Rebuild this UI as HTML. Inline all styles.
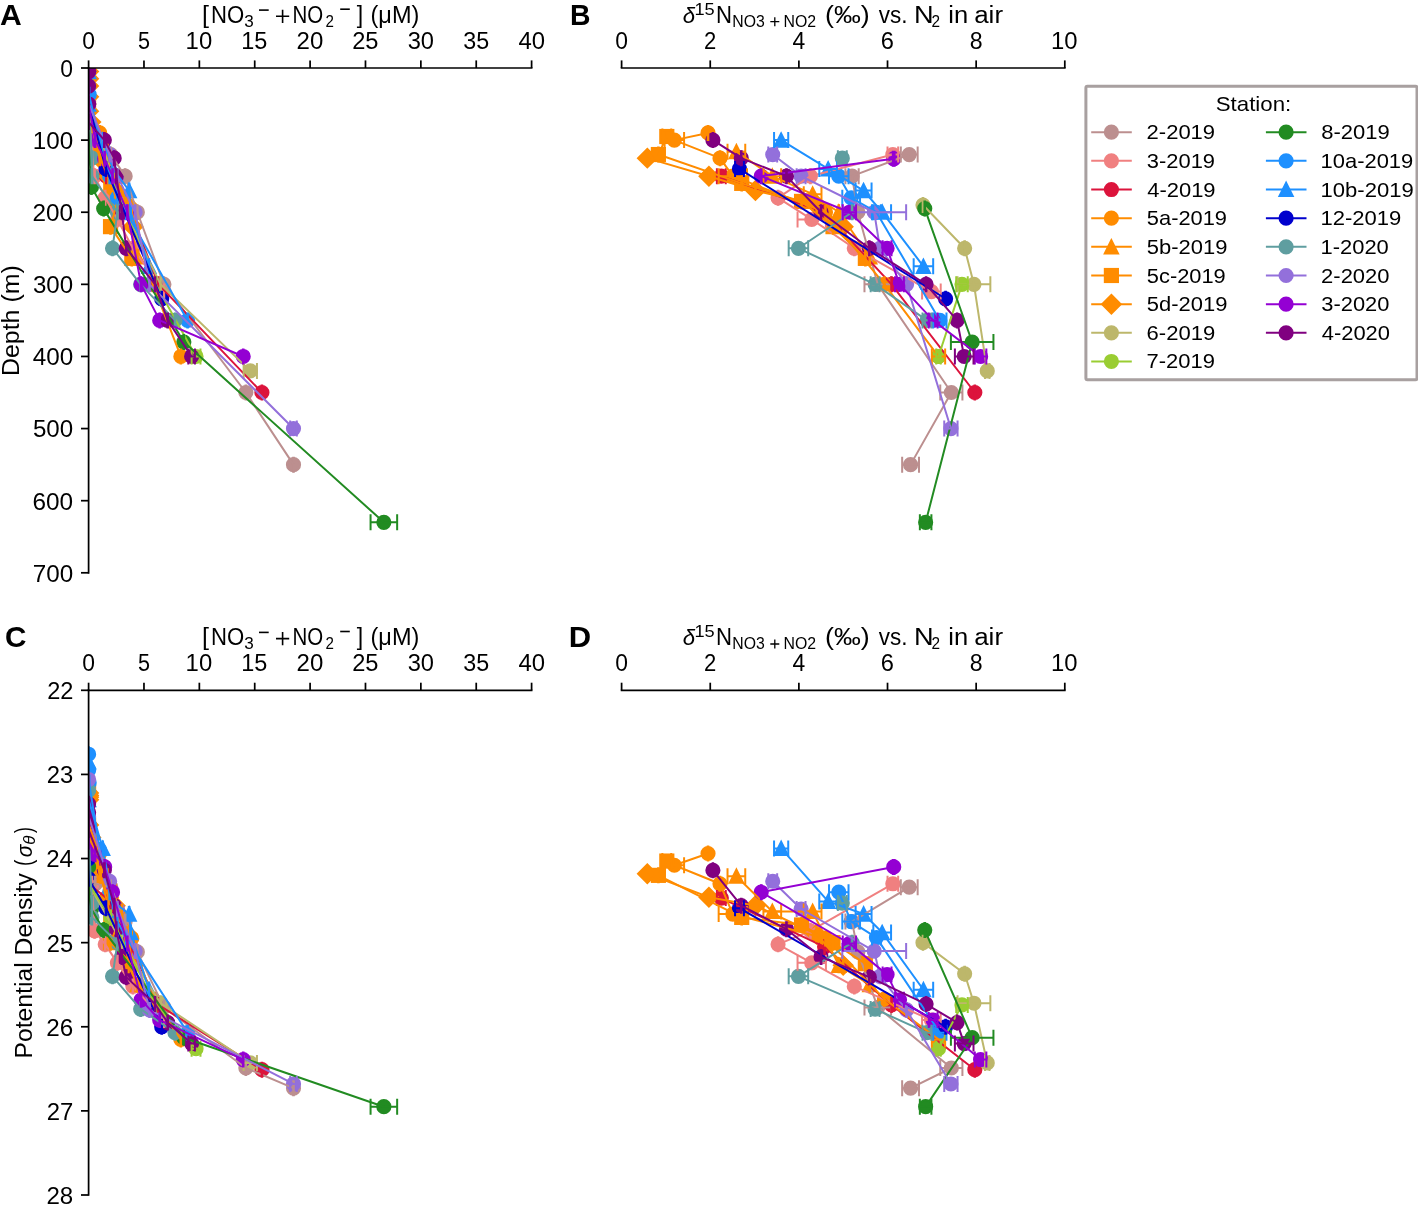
<!DOCTYPE html>
<html><head><meta charset="utf-8"><style>
html,body{margin:0;padding:0;background:#fff;overflow:hidden}
svg{display:block;will-change:transform}
text{font-family:"Liberation Sans", sans-serif;fill:#000}
</style></head><body>
<svg width="1418" height="1206" viewBox="0 0 1418 1206">
<defs><clipPath id="cA"><rect x="88.6" y="68.0" width="443.00" height="504.80"/></clipPath><clipPath id="cB"><rect x="621.6" y="68.0" width="443.20" height="504.80"/></clipPath><clipPath id="cC"><rect x="88.6" y="690.3" width="443.00" height="504.70"/></clipPath><clipPath id="cD"><rect x="621.6" y="690.3" width="443.20" height="504.70"/></clipPath></defs>
<g clip-path="url(#cA)">
<circle cx="88.60" cy="71.61" r="6.50" fill="#bc8f8f" stroke="#bc8f8f" stroke-width="2.17"/>
<circle cx="88.60" cy="104.06" r="6.50" fill="#bc8f8f" stroke="#bc8f8f" stroke-width="2.17"/>
<circle cx="95.24" cy="140.11" r="6.50" fill="#bc8f8f" stroke="#bc8f8f" stroke-width="2.17"/>
<circle cx="110.75" cy="154.54" r="6.50" fill="#bc8f8f" stroke="#bc8f8f" stroke-width="2.17"/>
<circle cx="125.15" cy="176.17" r="6.50" fill="#bc8f8f" stroke="#bc8f8f" stroke-width="2.17"/>
<circle cx="137.33" cy="212.23" r="6.50" fill="#bc8f8f" stroke="#bc8f8f" stroke-width="2.17"/>
<circle cx="163.91" cy="284.34" r="6.50" fill="#bc8f8f" stroke="#bc8f8f" stroke-width="2.17"/>
<circle cx="245.86" cy="392.51" r="6.50" fill="#bc8f8f" stroke="#bc8f8f" stroke-width="2.17"/>
<circle cx="293.49" cy="464.63" r="6.50" fill="#bc8f8f" stroke="#bc8f8f" stroke-width="2.17"/>
<circle cx="88.60" cy="71.61" r="6.50" fill="#f08080" stroke="#f08080" stroke-width="2.17"/>
<circle cx="88.60" cy="104.06" r="6.50" fill="#f08080" stroke="#f08080" stroke-width="2.17"/>
<circle cx="91.92" cy="154.54" r="6.50" fill="#f08080" stroke="#f08080" stroke-width="2.17"/>
<circle cx="94.58" cy="176.17" r="6.50" fill="#f08080" stroke="#f08080" stroke-width="2.17"/>
<circle cx="105.21" cy="197.81" r="6.50" fill="#f08080" stroke="#f08080" stroke-width="2.17"/>
<circle cx="117.39" cy="219.44" r="6.50" fill="#f08080" stroke="#f08080" stroke-width="2.17"/>
<circle cx="132.90" cy="248.29" r="6.50" fill="#f08080" stroke="#f08080" stroke-width="2.17"/>
<circle cx="163.91" cy="291.55" r="6.50" fill="#f08080" stroke="#f08080" stroke-width="2.17"/>
<circle cx="88.60" cy="71.61" r="6.50" fill="#dc143c" stroke="#dc143c" stroke-width="2.17"/>
<circle cx="88.60" cy="104.06" r="6.50" fill="#dc143c" stroke="#dc143c" stroke-width="2.17"/>
<circle cx="106.32" cy="176.17" r="6.50" fill="#dc143c" stroke="#dc143c" stroke-width="2.17"/>
<circle cx="130.69" cy="212.23" r="6.50" fill="#dc143c" stroke="#dc143c" stroke-width="2.17"/>
<circle cx="158.37" cy="284.34" r="6.50" fill="#dc143c" stroke="#dc143c" stroke-width="2.17"/>
<circle cx="261.92" cy="392.51" r="6.50" fill="#dc143c" stroke="#dc143c" stroke-width="2.17"/>
<circle cx="88.60" cy="71.61" r="6.50" fill="#ff8c00" stroke="#ff8c00" stroke-width="2.17"/>
<circle cx="88.60" cy="104.06" r="6.50" fill="#ff8c00" stroke="#ff8c00" stroke-width="2.17"/>
<circle cx="99.67" cy="132.90" r="6.50" fill="#ff8c00" stroke="#ff8c00" stroke-width="2.17"/>
<circle cx="101.89" cy="140.11" r="6.50" fill="#ff8c00" stroke="#ff8c00" stroke-width="2.17"/>
<circle cx="109.64" cy="158.14" r="6.50" fill="#ff8c00" stroke="#ff8c00" stroke-width="2.17"/>
<circle cx="115.18" cy="176.17" r="6.50" fill="#ff8c00" stroke="#ff8c00" stroke-width="2.17"/>
<circle cx="131.79" cy="212.23" r="6.50" fill="#ff8c00" stroke="#ff8c00" stroke-width="2.17"/>
<circle cx="152.83" cy="284.34" r="6.50" fill="#ff8c00" stroke="#ff8c00" stroke-width="2.17"/>
<circle cx="180.85" cy="356.46" r="6.50" fill="#ff8c00" stroke="#ff8c00" stroke-width="2.17"/>
<path d="M88.60 65.11L82.10 78.11H95.10Z" fill="#ff8c00" stroke="#ff8c00" stroke-width="2.17"/>
<path d="M88.60 97.56L82.10 110.56H95.10Z" fill="#ff8c00" stroke="#ff8c00" stroke-width="2.17"/>
<path d="M107.43 145.15L100.93 158.15H113.93Z" fill="#ff8c00" stroke="#ff8c00" stroke-width="2.17"/>
<path d="M116.29 169.67L109.79 182.67H122.79Z" fill="#ff8c00" stroke="#ff8c00" stroke-width="2.17"/>
<path d="M121.82 187.70L115.32 200.70H128.32Z" fill="#ff8c00" stroke="#ff8c00" stroke-width="2.17"/>
<path d="M128.47 205.73L121.97 218.73H134.97Z" fill="#ff8c00" stroke="#ff8c00" stroke-width="2.17"/>
<path d="M137.33 250.44L130.83 263.44H143.83Z" fill="#ff8c00" stroke="#ff8c00" stroke-width="2.17"/>
<rect x="82.10" y="65.11" width="13.00" height="13.00" fill="#ff8c00" stroke="#ff8c00" stroke-width="2.17"/>
<rect x="82.10" y="97.56" width="13.00" height="13.00" fill="#ff8c00" stroke="#ff8c00" stroke-width="2.17"/>
<rect x="90.96" y="130.01" width="13.00" height="13.00" fill="#ff8c00" stroke="#ff8c00" stroke-width="2.17"/>
<rect x="94.28" y="148.04" width="13.00" height="13.00" fill="#ff8c00" stroke="#ff8c00" stroke-width="2.17"/>
<rect x="104.25" y="176.88" width="13.00" height="13.00" fill="#ff8c00" stroke="#ff8c00" stroke-width="2.17"/>
<rect x="110.89" y="194.91" width="13.00" height="13.00" fill="#ff8c00" stroke="#ff8c00" stroke-width="2.17"/>
<rect x="104.03" y="220.15" width="13.00" height="13.00" fill="#ff8c00" stroke="#ff8c00" stroke-width="2.17"/>
<rect x="125.29" y="251.88" width="13.00" height="13.00" fill="#ff8c00" stroke="#ff8c00" stroke-width="2.17"/>
<path d="M88.60 62.42L97.79 71.61L88.60 80.80L79.41 71.61Z" fill="#ff8c00" stroke="#ff8c00" stroke-width="2.17"/>
<path d="M88.60 69.63L97.79 78.82L88.60 88.01L79.41 78.82Z" fill="#ff8c00" stroke="#ff8c00" stroke-width="2.17"/>
<path d="M88.60 76.84L97.79 86.03L88.60 95.22L79.41 86.03Z" fill="#ff8c00" stroke="#ff8c00" stroke-width="2.17"/>
<path d="M88.60 87.66L97.79 96.85L88.60 106.04L79.41 96.85Z" fill="#ff8c00" stroke="#ff8c00" stroke-width="2.17"/>
<path d="M88.60 102.08L97.79 111.27L88.60 120.46L79.41 111.27Z" fill="#ff8c00" stroke="#ff8c00" stroke-width="2.17"/>
<path d="M90.81 112.90L100.00 122.09L90.81 131.28L81.62 122.09Z" fill="#ff8c00" stroke="#ff8c00" stroke-width="2.17"/>
<path d="M99.67 148.95L108.86 158.14L99.67 167.33L90.48 158.14Z" fill="#ff8c00" stroke="#ff8c00" stroke-width="2.17"/>
<path d="M108.53 166.98L117.72 176.17L108.53 185.36L99.34 176.17Z" fill="#ff8c00" stroke="#ff8c00" stroke-width="2.17"/>
<path d="M115.18 181.40L124.37 190.59L115.18 199.78L105.99 190.59Z" fill="#ff8c00" stroke="#ff8c00" stroke-width="2.17"/>
<path d="M127.36 195.83L136.55 205.02L127.36 214.21L118.17 205.02Z" fill="#ff8c00" stroke="#ff8c00" stroke-width="2.17"/>
<path d="M132.90 217.46L142.09 226.65L132.90 235.84L123.71 226.65Z" fill="#ff8c00" stroke="#ff8c00" stroke-width="2.17"/>
<circle cx="88.60" cy="71.61" r="6.50" fill="#bdb76b" stroke="#bdb76b" stroke-width="2.17"/>
<circle cx="88.60" cy="104.06" r="6.50" fill="#bdb76b" stroke="#bdb76b" stroke-width="2.17"/>
<circle cx="121.82" cy="205.02" r="6.50" fill="#bdb76b" stroke="#bdb76b" stroke-width="2.17"/>
<circle cx="160.59" cy="284.34" r="6.50" fill="#bdb76b" stroke="#bdb76b" stroke-width="2.17"/>
<circle cx="250.29" cy="370.88" r="6.50" fill="#bdb76b" stroke="#bdb76b" stroke-width="2.17"/>
<circle cx="88.60" cy="71.61" r="6.50" fill="#9acd32" stroke="#9acd32" stroke-width="2.17"/>
<circle cx="88.60" cy="104.06" r="6.50" fill="#9acd32" stroke="#9acd32" stroke-width="2.17"/>
<circle cx="110.75" cy="176.17" r="6.50" fill="#9acd32" stroke="#9acd32" stroke-width="2.17"/>
<circle cx="155.71" cy="284.34" r="6.50" fill="#9acd32" stroke="#9acd32" stroke-width="2.17"/>
<circle cx="196.03" cy="356.46" r="6.50" fill="#9acd32" stroke="#9acd32" stroke-width="2.17"/>
<circle cx="88.60" cy="71.61" r="6.50" fill="#228b22" stroke="#228b22" stroke-width="2.17"/>
<circle cx="88.60" cy="140.11" r="6.50" fill="#228b22" stroke="#228b22" stroke-width="2.17"/>
<circle cx="91.48" cy="186.99" r="6.50" fill="#228b22" stroke="#228b22" stroke-width="2.17"/>
<circle cx="103.66" cy="208.62" r="6.50" fill="#228b22" stroke="#228b22" stroke-width="2.17"/>
<circle cx="183.84" cy="342.03" r="6.50" fill="#228b22" stroke="#228b22" stroke-width="2.17"/>
<circle cx="383.86" cy="522.32" r="6.50" fill="#228b22" stroke="#228b22" stroke-width="2.17"/>
<circle cx="88.60" cy="71.61" r="6.50" fill="#1e90ff" stroke="#1e90ff" stroke-width="2.17"/>
<circle cx="88.60" cy="86.03" r="6.50" fill="#1e90ff" stroke="#1e90ff" stroke-width="2.17"/>
<circle cx="89.15" cy="94.68" r="6.50" fill="#1e90ff" stroke="#1e90ff" stroke-width="2.17"/>
<circle cx="99.67" cy="140.11" r="6.50" fill="#1e90ff" stroke="#1e90ff" stroke-width="2.17"/>
<circle cx="109.64" cy="176.17" r="6.50" fill="#1e90ff" stroke="#1e90ff" stroke-width="2.17"/>
<circle cx="117.39" cy="197.81" r="6.50" fill="#1e90ff" stroke="#1e90ff" stroke-width="2.17"/>
<circle cx="126.25" cy="212.23" r="6.50" fill="#1e90ff" stroke="#1e90ff" stroke-width="2.17"/>
<circle cx="187.61" cy="320.40" r="6.50" fill="#1e90ff" stroke="#1e90ff" stroke-width="2.17"/>
<path d="M88.60 65.11L82.10 78.11H95.10Z" fill="#1e90ff" stroke="#1e90ff" stroke-width="2.17"/>
<path d="M88.60 97.56L82.10 110.56H95.10Z" fill="#1e90ff" stroke="#1e90ff" stroke-width="2.17"/>
<path d="M102.67 133.61L96.17 146.61H109.17Z" fill="#1e90ff" stroke="#1e90ff" stroke-width="2.17"/>
<path d="M112.97 162.46L106.47 175.46H119.47Z" fill="#1e90ff" stroke="#1e90ff" stroke-width="2.17"/>
<path d="M129.13 184.09L122.63 197.09H135.63Z" fill="#1e90ff" stroke="#1e90ff" stroke-width="2.17"/>
<path d="M130.69 205.73L124.19 218.73H137.19Z" fill="#1e90ff" stroke="#1e90ff" stroke-width="2.17"/>
<path d="M148.96 259.81L142.46 272.81H155.46Z" fill="#1e90ff" stroke="#1e90ff" stroke-width="2.17"/>
<circle cx="88.60" cy="71.61" r="6.50" fill="#0000cd" stroke="#0000cd" stroke-width="2.17"/>
<circle cx="88.60" cy="104.06" r="6.50" fill="#0000cd" stroke="#0000cd" stroke-width="2.17"/>
<circle cx="105.99" cy="168.96" r="6.50" fill="#0000cd" stroke="#0000cd" stroke-width="2.17"/>
<circle cx="161.69" cy="298.77" r="6.50" fill="#0000cd" stroke="#0000cd" stroke-width="2.17"/>
<circle cx="88.60" cy="71.61" r="6.50" fill="#5f9ea0" stroke="#5f9ea0" stroke-width="2.17"/>
<circle cx="88.60" cy="104.06" r="6.50" fill="#5f9ea0" stroke="#5f9ea0" stroke-width="2.17"/>
<circle cx="91.92" cy="158.14" r="6.50" fill="#5f9ea0" stroke="#5f9ea0" stroke-width="2.17"/>
<circle cx="91.92" cy="176.17" r="6.50" fill="#5f9ea0" stroke="#5f9ea0" stroke-width="2.17"/>
<circle cx="117.39" cy="212.23" r="6.50" fill="#5f9ea0" stroke="#5f9ea0" stroke-width="2.17"/>
<circle cx="112.52" cy="248.29" r="6.50" fill="#5f9ea0" stroke="#5f9ea0" stroke-width="2.17"/>
<circle cx="140.65" cy="284.34" r="6.50" fill="#5f9ea0" stroke="#5f9ea0" stroke-width="2.17"/>
<circle cx="174.98" cy="320.40" r="6.50" fill="#5f9ea0" stroke="#5f9ea0" stroke-width="2.17"/>
<circle cx="88.60" cy="71.61" r="6.50" fill="#9370db" stroke="#9370db" stroke-width="2.17"/>
<circle cx="88.60" cy="104.06" r="6.50" fill="#9370db" stroke="#9370db" stroke-width="2.17"/>
<circle cx="109.64" cy="154.54" r="6.50" fill="#9370db" stroke="#9370db" stroke-width="2.17"/>
<circle cx="117.39" cy="176.17" r="6.50" fill="#9370db" stroke="#9370db" stroke-width="2.17"/>
<circle cx="135.12" cy="212.23" r="6.50" fill="#9370db" stroke="#9370db" stroke-width="2.17"/>
<circle cx="149.51" cy="284.34" r="6.50" fill="#9370db" stroke="#9370db" stroke-width="2.17"/>
<circle cx="293.49" cy="428.57" r="6.50" fill="#9370db" stroke="#9370db" stroke-width="2.17"/>
<circle cx="88.60" cy="71.61" r="6.50" fill="#9400d3" stroke="#9400d3" stroke-width="2.17"/>
<circle cx="88.60" cy="104.06" r="6.50" fill="#9400d3" stroke="#9400d3" stroke-width="2.17"/>
<circle cx="95.24" cy="140.11" r="6.50" fill="#9400d3" stroke="#9400d3" stroke-width="2.17"/>
<circle cx="104.66" cy="158.86" r="6.50" fill="#9400d3" stroke="#9400d3" stroke-width="2.17"/>
<circle cx="112.52" cy="176.17" r="6.50" fill="#9400d3" stroke="#9400d3" stroke-width="2.17"/>
<circle cx="127.36" cy="212.23" r="6.50" fill="#9400d3" stroke="#9400d3" stroke-width="2.17"/>
<circle cx="141.10" cy="284.34" r="6.50" fill="#9400d3" stroke="#9400d3" stroke-width="2.17"/>
<circle cx="159.70" cy="320.40" r="6.50" fill="#9400d3" stroke="#9400d3" stroke-width="2.17"/>
<circle cx="243.21" cy="356.46" r="6.50" fill="#9400d3" stroke="#9400d3" stroke-width="2.17"/>
<circle cx="88.60" cy="71.61" r="6.50" fill="#800080" stroke="#800080" stroke-width="2.17"/>
<circle cx="88.60" cy="86.03" r="6.50" fill="#800080" stroke="#800080" stroke-width="2.17"/>
<circle cx="88.60" cy="104.06" r="6.50" fill="#800080" stroke="#800080" stroke-width="2.17"/>
<circle cx="88.60" cy="122.09" r="6.50" fill="#800080" stroke="#800080" stroke-width="2.17"/>
<circle cx="104.33" cy="140.11" r="6.50" fill="#800080" stroke="#800080" stroke-width="2.17"/>
<circle cx="114.18" cy="158.14" r="6.50" fill="#800080" stroke="#800080" stroke-width="2.17"/>
<circle cx="116.29" cy="176.17" r="6.50" fill="#800080" stroke="#800080" stroke-width="2.17"/>
<circle cx="121.82" cy="212.23" r="6.50" fill="#800080" stroke="#800080" stroke-width="2.17"/>
<circle cx="126.25" cy="248.29" r="6.50" fill="#800080" stroke="#800080" stroke-width="2.17"/>
<circle cx="155.05" cy="284.34" r="6.50" fill="#800080" stroke="#800080" stroke-width="2.17"/>
<circle cx="167.68" cy="320.40" r="6.50" fill="#800080" stroke="#800080" stroke-width="2.17"/>
<circle cx="191.60" cy="356.46" r="6.50" fill="#800080" stroke="#800080" stroke-width="2.17"/>
<path d="M88.30 63.61V79.61M88.90 63.61V79.61" fill="none" stroke="#bc8f8f" stroke-width="2.0"/>
<path d="M88.30 96.06V112.06M88.90 96.06V112.06" fill="none" stroke="#bc8f8f" stroke-width="2.0"/>
<path d="M94.94 132.11V148.11M95.54 132.11V148.11" fill="none" stroke="#bc8f8f" stroke-width="2.0"/>
<path d="M110.45 146.54V162.54M111.05 146.54V162.54" fill="none" stroke="#bc8f8f" stroke-width="2.0"/>
<path d="M124.85 168.17V184.17M125.45 168.17V184.17" fill="none" stroke="#bc8f8f" stroke-width="2.0"/>
<path d="M137.03 204.23V220.23M137.63 204.23V220.23" fill="none" stroke="#bc8f8f" stroke-width="2.0"/>
<path d="M163.61 276.34V292.34M164.21 276.34V292.34" fill="none" stroke="#bc8f8f" stroke-width="2.0"/>
<path d="M245.56 384.51V400.51M246.16 384.51V400.51" fill="none" stroke="#bc8f8f" stroke-width="2.0"/>
<path d="M293.19 456.63V472.63M293.79 456.63V472.63" fill="none" stroke="#bc8f8f" stroke-width="2.0"/>
<polyline points="88.60,71.61 88.60,104.06 95.24,140.11 110.75,154.54 125.15,176.17 137.33,212.23 163.91,284.34 245.86,392.51 293.49,464.63" fill="none" stroke="#bc8f8f" stroke-width="2.0" stroke-linejoin="round"/>
<path d="M88.30 63.61V79.61M88.90 63.61V79.61" fill="none" stroke="#f08080" stroke-width="2.0"/>
<path d="M88.30 96.06V112.06M88.90 96.06V112.06" fill="none" stroke="#f08080" stroke-width="2.0"/>
<path d="M91.62 146.54V162.54M92.22 146.54V162.54" fill="none" stroke="#f08080" stroke-width="2.0"/>
<path d="M94.28 168.17V184.17M94.88 168.17V184.17" fill="none" stroke="#f08080" stroke-width="2.0"/>
<path d="M104.91 189.81V205.81M105.51 189.81V205.81" fill="none" stroke="#f08080" stroke-width="2.0"/>
<path d="M117.09 211.44V227.44M117.69 211.44V227.44" fill="none" stroke="#f08080" stroke-width="2.0"/>
<path d="M132.60 240.29V256.29M133.20 240.29V256.29" fill="none" stroke="#f08080" stroke-width="2.0"/>
<path d="M163.61 283.55V299.55M164.21 283.55V299.55" fill="none" stroke="#f08080" stroke-width="2.0"/>
<polyline points="88.60,71.61 88.60,104.06 91.92,154.54 94.58,176.17 105.21,197.81 117.39,219.44 132.90,248.29 163.91,291.55" fill="none" stroke="#f08080" stroke-width="2.0" stroke-linejoin="round"/>
<path d="M88.30 63.61V79.61M88.90 63.61V79.61" fill="none" stroke="#dc143c" stroke-width="2.0"/>
<path d="M88.30 96.06V112.06M88.90 96.06V112.06" fill="none" stroke="#dc143c" stroke-width="2.0"/>
<path d="M106.02 168.17V184.17M106.62 168.17V184.17" fill="none" stroke="#dc143c" stroke-width="2.0"/>
<path d="M130.38 204.23V220.23M130.99 204.23V220.23" fill="none" stroke="#dc143c" stroke-width="2.0"/>
<path d="M158.07 276.34V292.34M158.67 276.34V292.34" fill="none" stroke="#dc143c" stroke-width="2.0"/>
<path d="M261.62 384.51V400.51M262.22 384.51V400.51" fill="none" stroke="#dc143c" stroke-width="2.0"/>
<polyline points="88.60,71.61 88.60,104.06 106.32,176.17 130.69,212.23 158.37,284.34 261.92,392.51" fill="none" stroke="#dc143c" stroke-width="2.0" stroke-linejoin="round"/>
<path d="M88.30 63.61V79.61M88.90 63.61V79.61" fill="none" stroke="#ff8c00" stroke-width="2.0"/>
<path d="M88.30 96.06V112.06M88.90 96.06V112.06" fill="none" stroke="#ff8c00" stroke-width="2.0"/>
<path d="M99.38 124.90V140.90M99.97 124.90V140.90" fill="none" stroke="#ff8c00" stroke-width="2.0"/>
<path d="M101.59 132.11V148.11M102.19 132.11V148.11" fill="none" stroke="#ff8c00" stroke-width="2.0"/>
<path d="M109.34 150.14V166.14M109.94 150.14V166.14" fill="none" stroke="#ff8c00" stroke-width="2.0"/>
<path d="M114.88 168.17V184.17M115.48 168.17V184.17" fill="none" stroke="#ff8c00" stroke-width="2.0"/>
<path d="M131.49 204.23V220.23M132.09 204.23V220.23" fill="none" stroke="#ff8c00" stroke-width="2.0"/>
<path d="M152.53 276.34V292.34M153.13 276.34V292.34" fill="none" stroke="#ff8c00" stroke-width="2.0"/>
<path d="M180.55 348.46V364.46M181.15 348.46V364.46" fill="none" stroke="#ff8c00" stroke-width="2.0"/>
<polyline points="88.60,71.61 88.60,104.06 99.67,132.90 101.89,140.11 109.64,158.14 115.18,176.17 131.79,212.23 152.83,284.34 180.85,356.46" fill="none" stroke="#ff8c00" stroke-width="2.0" stroke-linejoin="round"/>
<path d="M88.30 63.61V79.61M88.90 63.61V79.61" fill="none" stroke="#ff8c00" stroke-width="2.0"/>
<path d="M88.30 96.06V112.06M88.90 96.06V112.06" fill="none" stroke="#ff8c00" stroke-width="2.0"/>
<path d="M107.13 143.65V159.65M107.73 143.65V159.65" fill="none" stroke="#ff8c00" stroke-width="2.0"/>
<path d="M115.99 168.17V184.17M116.59 168.17V184.17" fill="none" stroke="#ff8c00" stroke-width="2.0"/>
<path d="M121.52 186.20V202.20M122.12 186.20V202.20" fill="none" stroke="#ff8c00" stroke-width="2.0"/>
<path d="M128.17 204.23V220.23M128.77 204.23V220.23" fill="none" stroke="#ff8c00" stroke-width="2.0"/>
<path d="M137.03 248.94V264.94M137.63 248.94V264.94" fill="none" stroke="#ff8c00" stroke-width="2.0"/>
<polyline points="88.60,71.61 88.60,104.06 107.43,151.65 116.29,176.17 121.82,194.20 128.47,212.23 137.33,256.94" fill="none" stroke="#ff8c00" stroke-width="2.0" stroke-linejoin="round"/>
<path d="M88.30 63.61V79.61M88.90 63.61V79.61" fill="none" stroke="#ff8c00" stroke-width="2.0"/>
<path d="M88.30 96.06V112.06M88.90 96.06V112.06" fill="none" stroke="#ff8c00" stroke-width="2.0"/>
<path d="M97.16 128.51V144.51M97.76 128.51V144.51" fill="none" stroke="#ff8c00" stroke-width="2.0"/>
<path d="M100.48 146.54V162.54M101.08 146.54V162.54" fill="none" stroke="#ff8c00" stroke-width="2.0"/>
<path d="M110.45 175.38V191.38M111.05 175.38V191.38" fill="none" stroke="#ff8c00" stroke-width="2.0"/>
<path d="M117.09 193.41V209.41M117.69 193.41V209.41" fill="none" stroke="#ff8c00" stroke-width="2.0"/>
<path d="M110.23 218.65V234.65M110.83 218.65V234.65" fill="none" stroke="#ff8c00" stroke-width="2.0"/>
<path d="M131.49 250.38V266.38M132.09 250.38V266.38" fill="none" stroke="#ff8c00" stroke-width="2.0"/>
<polyline points="88.60,71.61 88.60,104.06 97.46,136.51 100.78,154.54 110.75,183.38 117.39,201.41 110.53,226.65 131.79,258.38" fill="none" stroke="#ff8c00" stroke-width="2.0" stroke-linejoin="round"/>
<path d="M88.30 63.61V79.61M88.90 63.61V79.61" fill="none" stroke="#ff8c00" stroke-width="2.0"/>
<path d="M88.30 70.82V86.82M88.90 70.82V86.82" fill="none" stroke="#ff8c00" stroke-width="2.0"/>
<path d="M88.30 78.03V94.03M88.90 78.03V94.03" fill="none" stroke="#ff8c00" stroke-width="2.0"/>
<path d="M88.30 88.85V104.85M88.90 88.85V104.85" fill="none" stroke="#ff8c00" stroke-width="2.0"/>
<path d="M88.30 103.27V119.27M88.90 103.27V119.27" fill="none" stroke="#ff8c00" stroke-width="2.0"/>
<path d="M90.52 114.09V130.09M91.11 114.09V130.09" fill="none" stroke="#ff8c00" stroke-width="2.0"/>
<path d="M99.38 150.14V166.14M99.97 150.14V166.14" fill="none" stroke="#ff8c00" stroke-width="2.0"/>
<path d="M108.23 168.17V184.17M108.83 168.17V184.17" fill="none" stroke="#ff8c00" stroke-width="2.0"/>
<path d="M114.88 182.59V198.59M115.48 182.59V198.59" fill="none" stroke="#ff8c00" stroke-width="2.0"/>
<path d="M127.06 197.02V213.02M127.66 197.02V213.02" fill="none" stroke="#ff8c00" stroke-width="2.0"/>
<path d="M132.60 218.65V234.65M133.20 218.65V234.65" fill="none" stroke="#ff8c00" stroke-width="2.0"/>
<polyline points="88.60,71.61 88.60,78.82 88.60,86.03 88.60,96.85 88.60,111.27 90.81,122.09 99.67,158.14 108.53,176.17 115.18,190.59 127.36,205.02 132.90,226.65" fill="none" stroke="#ff8c00" stroke-width="2.0" stroke-linejoin="round"/>
<path d="M88.30 63.61V79.61M88.90 63.61V79.61" fill="none" stroke="#bdb76b" stroke-width="2.0"/>
<path d="M88.30 96.06V112.06M88.90 96.06V112.06" fill="none" stroke="#bdb76b" stroke-width="2.0"/>
<path d="M121.52 197.02V213.02M122.12 197.02V213.02" fill="none" stroke="#bdb76b" stroke-width="2.0"/>
<path d="M160.29 276.34V292.34M160.89 276.34V292.34" fill="none" stroke="#bdb76b" stroke-width="2.0"/>
<path d="M243.65 370.88H256.94M243.65 362.88V378.88M256.94 362.88V378.88" fill="none" stroke="#bdb76b" stroke-width="2.0"/>
<polyline points="88.60,71.61 88.60,104.06 121.82,205.02 160.59,284.34 250.29,370.88" fill="none" stroke="#bdb76b" stroke-width="2.0" stroke-linejoin="round"/>
<path d="M88.30 63.61V79.61M88.90 63.61V79.61" fill="none" stroke="#9acd32" stroke-width="2.0"/>
<path d="M88.30 96.06V112.06M88.90 96.06V112.06" fill="none" stroke="#9acd32" stroke-width="2.0"/>
<path d="M110.45 168.17V184.17M111.05 168.17V184.17" fill="none" stroke="#9acd32" stroke-width="2.0"/>
<path d="M155.41 276.34V292.34M156.01 276.34V292.34" fill="none" stroke="#9acd32" stroke-width="2.0"/>
<path d="M191.60 356.46H200.46M191.60 348.46V364.46M200.46 348.46V364.46" fill="none" stroke="#9acd32" stroke-width="2.0"/>
<polyline points="88.60,71.61 88.60,104.06 110.75,176.17 155.71,284.34 196.03,356.46" fill="none" stroke="#9acd32" stroke-width="2.0" stroke-linejoin="round"/>
<path d="M88.30 63.61V79.61M88.90 63.61V79.61" fill="none" stroke="#228b22" stroke-width="2.0"/>
<path d="M88.30 132.11V148.11M88.90 132.11V148.11" fill="none" stroke="#228b22" stroke-width="2.0"/>
<path d="M91.18 178.99V194.99M91.78 178.99V194.99" fill="none" stroke="#228b22" stroke-width="2.0"/>
<path d="M103.36 200.62V216.62M103.96 200.62V216.62" fill="none" stroke="#228b22" stroke-width="2.0"/>
<path d="M183.54 334.03V350.03M184.14 334.03V350.03" fill="none" stroke="#228b22" stroke-width="2.0"/>
<path d="M370.57 522.32H397.15M370.57 514.32V530.32M397.15 514.32V530.32" fill="none" stroke="#228b22" stroke-width="2.0"/>
<polyline points="88.60,71.61 88.60,140.11 91.48,186.99 103.66,208.62 183.84,342.03 383.86,522.32" fill="none" stroke="#228b22" stroke-width="2.0" stroke-linejoin="round"/>
<path d="M88.30 63.61V79.61M88.90 63.61V79.61" fill="none" stroke="#1e90ff" stroke-width="2.0"/>
<path d="M88.30 78.03V94.03M88.90 78.03V94.03" fill="none" stroke="#1e90ff" stroke-width="2.0"/>
<path d="M88.85 86.68V102.68M89.45 86.68V102.68" fill="none" stroke="#1e90ff" stroke-width="2.0"/>
<path d="M99.38 132.11V148.11M99.97 132.11V148.11" fill="none" stroke="#1e90ff" stroke-width="2.0"/>
<path d="M109.34 168.17V184.17M109.94 168.17V184.17" fill="none" stroke="#1e90ff" stroke-width="2.0"/>
<path d="M117.09 189.81V205.81M117.69 189.81V205.81" fill="none" stroke="#1e90ff" stroke-width="2.0"/>
<path d="M125.95 204.23V220.23M126.55 204.23V220.23" fill="none" stroke="#1e90ff" stroke-width="2.0"/>
<path d="M187.31 312.40V328.40M187.91 312.40V328.40" fill="none" stroke="#1e90ff" stroke-width="2.0"/>
<polyline points="88.60,71.61 88.60,86.03 89.15,94.68 99.67,140.11 109.64,176.17 117.39,197.81 126.25,212.23 187.61,320.40" fill="none" stroke="#1e90ff" stroke-width="2.0" stroke-linejoin="round"/>
<path d="M88.30 63.61V79.61M88.90 63.61V79.61" fill="none" stroke="#1e90ff" stroke-width="2.0"/>
<path d="M88.30 96.06V112.06M88.90 96.06V112.06" fill="none" stroke="#1e90ff" stroke-width="2.0"/>
<path d="M102.37 132.11V148.11M102.97 132.11V148.11" fill="none" stroke="#1e90ff" stroke-width="2.0"/>
<path d="M112.67 160.96V176.96M113.27 160.96V176.96" fill="none" stroke="#1e90ff" stroke-width="2.0"/>
<path d="M128.83 182.59V198.59M129.43 182.59V198.59" fill="none" stroke="#1e90ff" stroke-width="2.0"/>
<path d="M130.38 204.23V220.23M130.99 204.23V220.23" fill="none" stroke="#1e90ff" stroke-width="2.0"/>
<path d="M148.66 258.31V274.31M149.26 258.31V274.31" fill="none" stroke="#1e90ff" stroke-width="2.0"/>
<polyline points="88.60,71.61 88.60,104.06 102.67,140.11 112.97,168.96 129.13,190.59 130.69,212.23 148.96,266.31" fill="none" stroke="#1e90ff" stroke-width="2.0" stroke-linejoin="round"/>
<path d="M88.30 63.61V79.61M88.90 63.61V79.61" fill="none" stroke="#0000cd" stroke-width="2.0"/>
<path d="M88.30 96.06V112.06M88.90 96.06V112.06" fill="none" stroke="#0000cd" stroke-width="2.0"/>
<path d="M105.69 160.96V176.96M106.29 160.96V176.96" fill="none" stroke="#0000cd" stroke-width="2.0"/>
<path d="M161.39 290.77V306.77M162.00 290.77V306.77" fill="none" stroke="#0000cd" stroke-width="2.0"/>
<polyline points="88.60,71.61 88.60,104.06 105.99,168.96 161.69,298.77" fill="none" stroke="#0000cd" stroke-width="2.0" stroke-linejoin="round"/>
<path d="M88.30 63.61V79.61M88.90 63.61V79.61" fill="none" stroke="#5f9ea0" stroke-width="2.0"/>
<path d="M88.30 96.06V112.06M88.90 96.06V112.06" fill="none" stroke="#5f9ea0" stroke-width="2.0"/>
<path d="M91.62 150.14V166.14M92.22 150.14V166.14" fill="none" stroke="#5f9ea0" stroke-width="2.0"/>
<path d="M91.62 168.17V184.17M92.22 168.17V184.17" fill="none" stroke="#5f9ea0" stroke-width="2.0"/>
<path d="M117.09 204.23V220.23M117.69 204.23V220.23" fill="none" stroke="#5f9ea0" stroke-width="2.0"/>
<path d="M112.22 240.29V256.29M112.82 240.29V256.29" fill="none" stroke="#5f9ea0" stroke-width="2.0"/>
<path d="M140.35 276.34V292.34M140.95 276.34V292.34" fill="none" stroke="#5f9ea0" stroke-width="2.0"/>
<path d="M174.68 312.40V328.40M175.28 312.40V328.40" fill="none" stroke="#5f9ea0" stroke-width="2.0"/>
<polyline points="88.60,71.61 88.60,104.06 91.92,158.14 91.92,176.17 117.39,212.23 112.52,248.29 140.65,284.34 174.98,320.40" fill="none" stroke="#5f9ea0" stroke-width="2.0" stroke-linejoin="round"/>
<path d="M88.30 63.61V79.61M88.90 63.61V79.61" fill="none" stroke="#9370db" stroke-width="2.0"/>
<path d="M88.30 96.06V112.06M88.90 96.06V112.06" fill="none" stroke="#9370db" stroke-width="2.0"/>
<path d="M109.34 146.54V162.54M109.94 146.54V162.54" fill="none" stroke="#9370db" stroke-width="2.0"/>
<path d="M117.09 168.17V184.17M117.69 168.17V184.17" fill="none" stroke="#9370db" stroke-width="2.0"/>
<path d="M134.81 204.23V220.23M135.42 204.23V220.23" fill="none" stroke="#9370db" stroke-width="2.0"/>
<path d="M149.21 276.34V292.34M149.81 276.34V292.34" fill="none" stroke="#9370db" stroke-width="2.0"/>
<path d="M290.16 428.57H296.81M290.16 420.57V436.57M296.81 420.57V436.57" fill="none" stroke="#9370db" stroke-width="2.0"/>
<polyline points="88.60,71.61 88.60,104.06 109.64,154.54 117.39,176.17 135.12,212.23 149.51,284.34 293.49,428.57" fill="none" stroke="#9370db" stroke-width="2.0" stroke-linejoin="round"/>
<path d="M88.30 63.61V79.61M88.90 63.61V79.61" fill="none" stroke="#9400d3" stroke-width="2.0"/>
<path d="M88.30 96.06V112.06M88.90 96.06V112.06" fill="none" stroke="#9400d3" stroke-width="2.0"/>
<path d="M94.94 132.11V148.11M95.54 132.11V148.11" fill="none" stroke="#9400d3" stroke-width="2.0"/>
<path d="M104.36 150.86V166.86M104.96 150.86V166.86" fill="none" stroke="#9400d3" stroke-width="2.0"/>
<path d="M112.22 168.17V184.17M112.82 168.17V184.17" fill="none" stroke="#9400d3" stroke-width="2.0"/>
<path d="M127.06 204.23V220.23M127.66 204.23V220.23" fill="none" stroke="#9400d3" stroke-width="2.0"/>
<path d="M140.80 276.34V292.34M141.40 276.34V292.34" fill="none" stroke="#9400d3" stroke-width="2.0"/>
<path d="M159.40 312.40V328.40M160.00 312.40V328.40" fill="none" stroke="#9400d3" stroke-width="2.0"/>
<path d="M242.91 348.46V364.46M243.51 348.46V364.46" fill="none" stroke="#9400d3" stroke-width="2.0"/>
<polyline points="88.60,71.61 88.60,104.06 95.24,140.11 104.66,158.86 112.52,176.17 127.36,212.23 141.10,284.34 159.70,320.40 243.21,356.46" fill="none" stroke="#9400d3" stroke-width="2.0" stroke-linejoin="round"/>
<path d="M88.30 63.61V79.61M88.90 63.61V79.61" fill="none" stroke="#800080" stroke-width="2.0"/>
<path d="M88.30 78.03V94.03M88.90 78.03V94.03" fill="none" stroke="#800080" stroke-width="2.0"/>
<path d="M88.30 96.06V112.06M88.90 96.06V112.06" fill="none" stroke="#800080" stroke-width="2.0"/>
<path d="M88.30 114.09V130.09M88.90 114.09V130.09" fill="none" stroke="#800080" stroke-width="2.0"/>
<path d="M104.03 132.11V148.11M104.63 132.11V148.11" fill="none" stroke="#800080" stroke-width="2.0"/>
<path d="M113.88 150.14V166.14M114.48 150.14V166.14" fill="none" stroke="#800080" stroke-width="2.0"/>
<path d="M115.99 168.17V184.17M116.59 168.17V184.17" fill="none" stroke="#800080" stroke-width="2.0"/>
<path d="M121.52 204.23V220.23M122.12 204.23V220.23" fill="none" stroke="#800080" stroke-width="2.0"/>
<path d="M125.95 240.29V256.29M126.55 240.29V256.29" fill="none" stroke="#800080" stroke-width="2.0"/>
<path d="M154.75 276.34V292.34M155.35 276.34V292.34" fill="none" stroke="#800080" stroke-width="2.0"/>
<path d="M167.38 312.40V328.40M167.98 312.40V328.40" fill="none" stroke="#800080" stroke-width="2.0"/>
<path d="M188.28 356.46H194.92M188.28 348.46V364.46M194.92 348.46V364.46" fill="none" stroke="#800080" stroke-width="2.0"/>
<polyline points="88.60,71.61 88.60,86.03 88.60,104.06 88.60,122.09 104.33,140.11 114.18,158.14 116.29,176.17 121.82,212.23 126.25,248.29 155.05,284.34 167.68,320.40 191.60,356.46" fill="none" stroke="#800080" stroke-width="2.0" stroke-linejoin="round"/>
</g>
<g clip-path="url(#cB)">
<circle cx="909.24" cy="154.54" r="6.50" fill="#bc8f8f" stroke="#bc8f8f" stroke-width="2.17"/>
<circle cx="852.06" cy="176.17" r="6.50" fill="#bc8f8f" stroke="#bc8f8f" stroke-width="2.17"/>
<circle cx="857.83" cy="212.23" r="6.50" fill="#bc8f8f" stroke="#bc8f8f" stroke-width="2.17"/>
<circle cx="877.77" cy="284.34" r="6.50" fill="#bc8f8f" stroke="#bc8f8f" stroke-width="2.17"/>
<circle cx="951.34" cy="392.51" r="6.50" fill="#bc8f8f" stroke="#bc8f8f" stroke-width="2.17"/>
<circle cx="910.57" cy="464.63" r="6.50" fill="#bc8f8f" stroke="#bc8f8f" stroke-width="2.17"/>
<circle cx="892.84" cy="154.54" r="6.50" fill="#f08080" stroke="#f08080" stroke-width="2.17"/>
<circle cx="810.40" cy="176.17" r="6.50" fill="#f08080" stroke="#f08080" stroke-width="2.17"/>
<circle cx="778.05" cy="197.81" r="6.50" fill="#f08080" stroke="#f08080" stroke-width="2.17"/>
<circle cx="811.73" cy="219.44" r="6.50" fill="#f08080" stroke="#f08080" stroke-width="2.17"/>
<circle cx="854.28" cy="248.29" r="6.50" fill="#f08080" stroke="#f08080" stroke-width="2.17"/>
<circle cx="931.40" cy="291.55" r="6.50" fill="#f08080" stroke="#f08080" stroke-width="2.17"/>
<circle cx="721.32" cy="176.17" r="6.50" fill="#dc143c" stroke="#dc143c" stroke-width="2.17"/>
<circle cx="824.59" cy="212.23" r="6.50" fill="#dc143c" stroke="#dc143c" stroke-width="2.17"/>
<circle cx="891.51" cy="284.34" r="6.50" fill="#dc143c" stroke="#dc143c" stroke-width="2.17"/>
<circle cx="974.83" cy="392.51" r="6.50" fill="#dc143c" stroke="#dc143c" stroke-width="2.17"/>
<circle cx="708.02" cy="132.90" r="6.50" fill="#ff8c00" stroke="#ff8c00" stroke-width="2.17"/>
<circle cx="674.34" cy="140.11" r="6.50" fill="#ff8c00" stroke="#ff8c00" stroke-width="2.17"/>
<circle cx="719.99" cy="158.14" r="6.50" fill="#ff8c00" stroke="#ff8c00" stroke-width="2.17"/>
<circle cx="732.84" cy="176.17" r="6.50" fill="#ff8c00" stroke="#ff8c00" stroke-width="2.17"/>
<circle cx="825.47" cy="212.23" r="6.50" fill="#ff8c00" stroke="#ff8c00" stroke-width="2.17"/>
<circle cx="884.42" cy="284.34" r="6.50" fill="#ff8c00" stroke="#ff8c00" stroke-width="2.17"/>
<circle cx="938.49" cy="356.46" r="6.50" fill="#ff8c00" stroke="#ff8c00" stroke-width="2.17"/>
<path d="M736.39 145.15L729.89 158.15H742.89Z" fill="#ff8c00" stroke="#ff8c00" stroke-width="2.17"/>
<path d="M772.29 169.67L765.79 182.67H778.79Z" fill="#ff8c00" stroke="#ff8c00" stroke-width="2.17"/>
<path d="M812.62 187.70L806.12 200.70H819.12Z" fill="#ff8c00" stroke="#ff8c00" stroke-width="2.17"/>
<path d="M838.77 205.73L832.27 218.73H845.27Z" fill="#ff8c00" stroke="#ff8c00" stroke-width="2.17"/>
<path d="M869.79 250.44L863.29 263.44H876.29Z" fill="#ff8c00" stroke="#ff8c00" stroke-width="2.17"/>
<rect x="660.31" y="130.01" width="13.00" height="13.00" fill="#ff8c00" stroke="#ff8c00" stroke-width="2.17"/>
<rect x="651.89" y="148.04" width="13.00" height="13.00" fill="#ff8c00" stroke="#ff8c00" stroke-width="2.17"/>
<rect x="735.21" y="176.88" width="13.00" height="13.00" fill="#ff8c00" stroke="#ff8c00" stroke-width="2.17"/>
<rect x="795.04" y="194.91" width="13.00" height="13.00" fill="#ff8c00" stroke="#ff8c00" stroke-width="2.17"/>
<rect x="826.51" y="220.15" width="13.00" height="13.00" fill="#ff8c00" stroke="#ff8c00" stroke-width="2.17"/>
<rect x="858.86" y="251.88" width="13.00" height="13.00" fill="#ff8c00" stroke="#ff8c00" stroke-width="2.17"/>
<path d="M647.31 148.95L656.50 158.14L647.31 167.33L638.12 158.14Z" fill="#ff8c00" stroke="#ff8c00" stroke-width="2.17"/>
<path d="M708.91 166.98L718.10 176.17L708.91 185.36L699.72 176.17Z" fill="#ff8c00" stroke="#ff8c00" stroke-width="2.17"/>
<path d="M755.45 181.40L764.64 190.59L755.45 199.78L746.26 190.59Z" fill="#ff8c00" stroke="#ff8c00" stroke-width="2.17"/>
<path d="M816.61 195.83L825.80 205.02L816.61 214.21L807.42 205.02Z" fill="#ff8c00" stroke="#ff8c00" stroke-width="2.17"/>
<path d="M843.20 217.46L852.39 226.65L843.20 235.84L834.01 226.65Z" fill="#ff8c00" stroke="#ff8c00" stroke-width="2.17"/>
<circle cx="922.98" cy="205.02" r="6.50" fill="#bdb76b" stroke="#bdb76b" stroke-width="2.17"/>
<circle cx="964.64" cy="248.29" r="6.50" fill="#bdb76b" stroke="#bdb76b" stroke-width="2.17"/>
<circle cx="973.94" cy="284.34" r="6.50" fill="#bdb76b" stroke="#bdb76b" stroke-width="2.17"/>
<circle cx="987.24" cy="370.88" r="6.50" fill="#bdb76b" stroke="#bdb76b" stroke-width="2.17"/>
<circle cx="961.98" cy="284.34" r="6.50" fill="#9acd32" stroke="#9acd32" stroke-width="2.17"/>
<circle cx="938.49" cy="356.46" r="6.50" fill="#9acd32" stroke="#9acd32" stroke-width="2.17"/>
<circle cx="924.75" cy="208.62" r="6.50" fill="#228b22" stroke="#228b22" stroke-width="2.17"/>
<circle cx="972.17" cy="342.03" r="6.50" fill="#228b22" stroke="#228b22" stroke-width="2.17"/>
<circle cx="925.64" cy="522.32" r="6.50" fill="#228b22" stroke="#228b22" stroke-width="2.17"/>
<circle cx="838.77" cy="176.17" r="6.50" fill="#1e90ff" stroke="#1e90ff" stroke-width="2.17"/>
<circle cx="851.18" cy="197.81" r="6.50" fill="#1e90ff" stroke="#1e90ff" stroke-width="2.17"/>
<circle cx="876.44" cy="212.23" r="6.50" fill="#1e90ff" stroke="#1e90ff" stroke-width="2.17"/>
<circle cx="939.82" cy="320.40" r="6.50" fill="#1e90ff" stroke="#1e90ff" stroke-width="2.17"/>
<path d="M781.15 133.61L774.65 146.61H787.65Z" fill="#1e90ff" stroke="#1e90ff" stroke-width="2.17"/>
<path d="M828.13 162.46L821.63 175.46H834.63Z" fill="#1e90ff" stroke="#1e90ff" stroke-width="2.17"/>
<path d="M863.59 184.09L857.09 197.09H870.09Z" fill="#1e90ff" stroke="#1e90ff" stroke-width="2.17"/>
<path d="M882.20 205.73L875.70 218.73H888.70Z" fill="#1e90ff" stroke="#1e90ff" stroke-width="2.17"/>
<path d="M923.42 259.81L916.92 272.81H929.92Z" fill="#1e90ff" stroke="#1e90ff" stroke-width="2.17"/>
<circle cx="739.49" cy="168.96" r="6.50" fill="#0000cd" stroke="#0000cd" stroke-width="2.17"/>
<circle cx="945.58" cy="298.77" r="6.50" fill="#0000cd" stroke="#0000cd" stroke-width="2.17"/>
<circle cx="842.31" cy="158.14" r="6.50" fill="#5f9ea0" stroke="#5f9ea0" stroke-width="2.17"/>
<circle cx="852.06" cy="212.23" r="6.50" fill="#5f9ea0" stroke="#5f9ea0" stroke-width="2.17"/>
<circle cx="798.44" cy="248.29" r="6.50" fill="#5f9ea0" stroke="#5f9ea0" stroke-width="2.17"/>
<circle cx="875.11" cy="284.34" r="6.50" fill="#5f9ea0" stroke="#5f9ea0" stroke-width="2.17"/>
<circle cx="926.96" cy="320.40" r="6.50" fill="#5f9ea0" stroke="#5f9ea0" stroke-width="2.17"/>
<circle cx="772.73" cy="154.54" r="6.50" fill="#9370db" stroke="#9370db" stroke-width="2.17"/>
<circle cx="801.10" cy="176.17" r="6.50" fill="#9370db" stroke="#9370db" stroke-width="2.17"/>
<circle cx="874.22" cy="212.23" r="6.50" fill="#9370db" stroke="#9370db" stroke-width="2.17"/>
<circle cx="879.99" cy="248.29" r="6.50" fill="#9370db" stroke="#9370db" stroke-width="2.17"/>
<circle cx="906.58" cy="284.34" r="6.50" fill="#9370db" stroke="#9370db" stroke-width="2.17"/>
<circle cx="950.90" cy="428.57" r="6.50" fill="#9370db" stroke="#9370db" stroke-width="2.17"/>
<circle cx="893.72" cy="158.86" r="6.50" fill="#9400d3" stroke="#9400d3" stroke-width="2.17"/>
<circle cx="761.21" cy="176.17" r="6.50" fill="#9400d3" stroke="#9400d3" stroke-width="2.17"/>
<circle cx="849.40" cy="212.23" r="6.50" fill="#9400d3" stroke="#9400d3" stroke-width="2.17"/>
<circle cx="887.08" cy="248.29" r="6.50" fill="#9400d3" stroke="#9400d3" stroke-width="2.17"/>
<circle cx="899.49" cy="284.34" r="6.50" fill="#9400d3" stroke="#9400d3" stroke-width="2.17"/>
<circle cx="933.17" cy="320.40" r="6.50" fill="#9400d3" stroke="#9400d3" stroke-width="2.17"/>
<circle cx="980.59" cy="356.46" r="6.50" fill="#9400d3" stroke="#9400d3" stroke-width="2.17"/>
<circle cx="712.90" cy="140.11" r="6.50" fill="#800080" stroke="#800080" stroke-width="2.17"/>
<circle cx="741.26" cy="158.14" r="6.50" fill="#800080" stroke="#800080" stroke-width="2.17"/>
<circle cx="786.47" cy="176.17" r="6.50" fill="#800080" stroke="#800080" stroke-width="2.17"/>
<circle cx="821.04" cy="212.23" r="6.50" fill="#800080" stroke="#800080" stroke-width="2.17"/>
<circle cx="869.35" cy="248.29" r="6.50" fill="#800080" stroke="#800080" stroke-width="2.17"/>
<circle cx="926.08" cy="284.34" r="6.50" fill="#800080" stroke="#800080" stroke-width="2.17"/>
<circle cx="957.10" cy="320.40" r="6.50" fill="#800080" stroke="#800080" stroke-width="2.17"/>
<circle cx="964.19" cy="356.46" r="6.50" fill="#800080" stroke="#800080" stroke-width="2.17"/>
<path d="M900.82 154.54H917.66M900.82 146.54V162.54M917.66 146.54V162.54" fill="none" stroke="#bc8f8f" stroke-width="2.0"/>
<path d="M845.42 176.17H858.71M845.42 168.17V184.17M858.71 168.17V184.17" fill="none" stroke="#bc8f8f" stroke-width="2.0"/>
<path d="M857.53 204.23V220.23M858.13 204.23V220.23" fill="none" stroke="#bc8f8f" stroke-width="2.0"/>
<path d="M864.47 284.34H891.07M864.47 276.34V292.34M891.07 276.34V292.34" fill="none" stroke="#bc8f8f" stroke-width="2.0"/>
<path d="M940.26 392.51H962.42M940.26 384.51V400.51M962.42 384.51V400.51" fill="none" stroke="#bc8f8f" stroke-width="2.0"/>
<path d="M902.15 464.63H918.99M902.15 456.63V472.63M918.99 456.63V472.63" fill="none" stroke="#bc8f8f" stroke-width="2.0"/>
<polyline points="909.24,154.54 852.06,176.17 857.83,212.23 877.77,284.34 951.34,392.51 910.57,464.63" fill="none" stroke="#bc8f8f" stroke-width="2.0" stroke-linejoin="round"/>
<path d="M887.52 154.54H898.16M887.52 146.54V162.54M898.16 146.54V162.54" fill="none" stroke="#f08080" stroke-width="2.0"/>
<path d="M810.10 168.17V184.17M810.70 168.17V184.17" fill="none" stroke="#f08080" stroke-width="2.0"/>
<path d="M777.75 189.81V205.81M778.35 189.81V205.81" fill="none" stroke="#f08080" stroke-width="2.0"/>
<path d="M797.55 219.44H825.92M797.55 211.44V227.44M825.92 211.44V227.44" fill="none" stroke="#f08080" stroke-width="2.0"/>
<path d="M853.98 240.29V256.29M854.58 240.29V256.29" fill="none" stroke="#f08080" stroke-width="2.0"/>
<path d="M922.09 291.55H940.70M922.09 283.55V299.55M940.70 283.55V299.55" fill="none" stroke="#f08080" stroke-width="2.0"/>
<polyline points="892.84,154.54 810.40,176.17 778.05,197.81 811.73,219.44 854.28,248.29 931.40,291.55" fill="none" stroke="#f08080" stroke-width="2.0" stroke-linejoin="round"/>
<path d="M716.89 176.17H725.75M716.89 168.17V184.17M725.75 168.17V184.17" fill="none" stroke="#dc143c" stroke-width="2.0"/>
<path d="M824.29 204.23V220.23M824.89 204.23V220.23" fill="none" stroke="#dc143c" stroke-width="2.0"/>
<path d="M891.21 276.34V292.34M891.81 276.34V292.34" fill="none" stroke="#dc143c" stroke-width="2.0"/>
<path d="M974.53 384.51V400.51M975.13 384.51V400.51" fill="none" stroke="#dc143c" stroke-width="2.0"/>
<polyline points="721.32,176.17 824.59,212.23 891.51,284.34 974.83,392.51" fill="none" stroke="#dc143c" stroke-width="2.0" stroke-linejoin="round"/>
<path d="M707.72 124.90V140.90M708.32 124.90V140.90" fill="none" stroke="#ff8c00" stroke-width="2.0"/>
<path d="M664.59 140.11H684.09M664.59 132.11V148.11M684.09 132.11V148.11" fill="none" stroke="#ff8c00" stroke-width="2.0"/>
<path d="M719.69 150.14V166.14M720.29 150.14V166.14" fill="none" stroke="#ff8c00" stroke-width="2.0"/>
<path d="M718.66 176.17H747.03M718.66 168.17V184.17M747.03 168.17V184.17" fill="none" stroke="#ff8c00" stroke-width="2.0"/>
<path d="M825.17 204.23V220.23M825.77 204.23V220.23" fill="none" stroke="#ff8c00" stroke-width="2.0"/>
<path d="M884.12 276.34V292.34M884.72 276.34V292.34" fill="none" stroke="#ff8c00" stroke-width="2.0"/>
<path d="M931.84 356.46H945.14M931.84 348.46V364.46M945.14 348.46V364.46" fill="none" stroke="#ff8c00" stroke-width="2.0"/>
<polyline points="708.02,132.90 674.34,140.11 719.99,158.14 732.84,176.17 825.47,212.23 884.42,284.34 938.49,356.46" fill="none" stroke="#ff8c00" stroke-width="2.0" stroke-linejoin="round"/>
<path d="M727.52 151.65H745.25M727.52 143.65V159.65M745.25 143.65V159.65" fill="none" stroke="#ff8c00" stroke-width="2.0"/>
<path d="M763.42 176.17H781.15M763.42 168.17V184.17M781.15 168.17V184.17" fill="none" stroke="#ff8c00" stroke-width="2.0"/>
<path d="M803.76 194.20H821.48M803.76 186.20V202.20M821.48 186.20V202.20" fill="none" stroke="#ff8c00" stroke-width="2.0"/>
<path d="M838.47 204.23V220.23M839.07 204.23V220.23" fill="none" stroke="#ff8c00" stroke-width="2.0"/>
<path d="M869.49 248.94V264.94M870.09 248.94V264.94" fill="none" stroke="#ff8c00" stroke-width="2.0"/>
<polyline points="736.39,151.65 772.29,176.17 812.62,194.20 838.77,212.23 869.79,256.94" fill="none" stroke="#ff8c00" stroke-width="2.0" stroke-linejoin="round"/>
<path d="M662.37 136.51H671.24M662.37 128.51V144.51M671.24 128.51V144.51" fill="none" stroke="#ff8c00" stroke-width="2.0"/>
<path d="M658.09 146.54V162.54M658.69 146.54V162.54" fill="none" stroke="#ff8c00" stroke-width="2.0"/>
<path d="M741.41 175.38V191.38M742.01 175.38V191.38" fill="none" stroke="#ff8c00" stroke-width="2.0"/>
<path d="M801.24 193.41V209.41M801.84 193.41V209.41" fill="none" stroke="#ff8c00" stroke-width="2.0"/>
<path d="M832.71 218.65V234.65M833.31 218.65V234.65" fill="none" stroke="#ff8c00" stroke-width="2.0"/>
<path d="M865.06 250.38V266.38M865.66 250.38V266.38" fill="none" stroke="#ff8c00" stroke-width="2.0"/>
<polyline points="666.81,136.51 658.39,154.54 741.71,183.38 801.54,201.41 833.01,226.65 865.36,258.38" fill="none" stroke="#ff8c00" stroke-width="2.0" stroke-linejoin="round"/>
<path d="M647.01 150.14V166.14M647.61 150.14V166.14" fill="none" stroke="#ff8c00" stroke-width="2.0"/>
<path d="M708.61 168.17V184.17M709.21 168.17V184.17" fill="none" stroke="#ff8c00" stroke-width="2.0"/>
<path d="M755.15 182.59V198.59M755.75 182.59V198.59" fill="none" stroke="#ff8c00" stroke-width="2.0"/>
<path d="M816.31 197.02V213.02M816.91 197.02V213.02" fill="none" stroke="#ff8c00" stroke-width="2.0"/>
<path d="M842.90 218.65V234.65M843.50 218.65V234.65" fill="none" stroke="#ff8c00" stroke-width="2.0"/>
<polyline points="647.31,158.14 708.91,176.17 755.45,190.59 816.61,205.02 843.20,226.65" fill="none" stroke="#ff8c00" stroke-width="2.0" stroke-linejoin="round"/>
<path d="M922.68 197.02V213.02M923.28 197.02V213.02" fill="none" stroke="#bdb76b" stroke-width="2.0"/>
<path d="M964.34 240.29V256.29M964.94 240.29V256.29" fill="none" stroke="#bdb76b" stroke-width="2.0"/>
<path d="M957.55 284.34H990.34M957.55 276.34V292.34M990.34 276.34V292.34" fill="none" stroke="#bdb76b" stroke-width="2.0"/>
<path d="M985.02 370.88H989.46M985.02 362.88V378.88M989.46 362.88V378.88" fill="none" stroke="#bdb76b" stroke-width="2.0"/>
<polyline points="922.98,205.02 964.64,248.29 973.94,284.34 987.24,370.88" fill="none" stroke="#bdb76b" stroke-width="2.0" stroke-linejoin="round"/>
<path d="M956.22 284.34H967.74M956.22 276.34V292.34M967.74 276.34V292.34" fill="none" stroke="#9acd32" stroke-width="2.0"/>
<path d="M936.27 356.46H940.70M936.27 348.46V364.46M940.70 348.46V364.46" fill="none" stroke="#9acd32" stroke-width="2.0"/>
<polyline points="961.98,284.34 938.49,356.46" fill="none" stroke="#9acd32" stroke-width="2.0" stroke-linejoin="round"/>
<path d="M924.45 200.62V216.62M925.05 200.62V216.62" fill="none" stroke="#228b22" stroke-width="2.0"/>
<path d="M950.90 342.03H993.44M950.90 334.03V350.03M993.44 334.03V350.03" fill="none" stroke="#228b22" stroke-width="2.0"/>
<path d="M919.87 522.32H931.40M919.87 514.32V530.32M931.40 514.32V530.32" fill="none" stroke="#228b22" stroke-width="2.0"/>
<polyline points="924.75,208.62 972.17,342.03 925.64,522.32" fill="none" stroke="#228b22" stroke-width="2.0" stroke-linejoin="round"/>
<path d="M829.02 176.17H848.52M829.02 168.17V184.17M848.52 168.17V184.17" fill="none" stroke="#1e90ff" stroke-width="2.0"/>
<path d="M842.31 197.81H860.04M842.31 189.81V205.81M860.04 189.81V205.81" fill="none" stroke="#1e90ff" stroke-width="2.0"/>
<path d="M872.01 212.23H880.87M872.01 204.23V220.23M880.87 204.23V220.23" fill="none" stroke="#1e90ff" stroke-width="2.0"/>
<path d="M933.17 320.40H946.47M933.17 312.40V328.40M946.47 312.40V328.40" fill="none" stroke="#1e90ff" stroke-width="2.0"/>
<polyline points="838.77,176.17 851.18,197.81 876.44,212.23 939.82,320.40" fill="none" stroke="#1e90ff" stroke-width="2.0" stroke-linejoin="round"/>
<path d="M774.06 140.11H788.24M774.06 132.11V148.11M788.24 132.11V148.11" fill="none" stroke="#1e90ff" stroke-width="2.0"/>
<path d="M819.27 168.96H837.00M819.27 160.96V176.96M837.00 160.96V176.96" fill="none" stroke="#1e90ff" stroke-width="2.0"/>
<path d="M855.61 190.59H871.56M855.61 182.59V198.59M871.56 182.59V198.59" fill="none" stroke="#1e90ff" stroke-width="2.0"/>
<path d="M873.34 212.23H891.07M873.34 204.23V220.23M891.07 204.23V220.23" fill="none" stroke="#1e90ff" stroke-width="2.0"/>
<path d="M913.67 266.31H933.17M913.67 258.31V274.31M933.17 258.31V274.31" fill="none" stroke="#1e90ff" stroke-width="2.0"/>
<polyline points="781.15,140.11 828.13,168.96 863.59,190.59 882.20,212.23 923.42,266.31" fill="none" stroke="#1e90ff" stroke-width="2.0" stroke-linejoin="round"/>
<path d="M735.06 168.96H743.92M735.06 160.96V176.96M743.92 160.96V176.96" fill="none" stroke="#0000cd" stroke-width="2.0"/>
<path d="M945.28 290.77V306.77M945.88 290.77V306.77" fill="none" stroke="#0000cd" stroke-width="2.0"/>
<polyline points="739.49,168.96 945.58,298.77" fill="none" stroke="#0000cd" stroke-width="2.0" stroke-linejoin="round"/>
<path d="M837.88 158.14H846.75M837.88 150.14V166.14M846.75 150.14V166.14" fill="none" stroke="#5f9ea0" stroke-width="2.0"/>
<path d="M851.76 204.23V220.23M852.36 204.23V220.23" fill="none" stroke="#5f9ea0" stroke-width="2.0"/>
<path d="M788.69 248.29H808.19M788.69 240.29V256.29M808.19 240.29V256.29" fill="none" stroke="#5f9ea0" stroke-width="2.0"/>
<path d="M870.68 284.34H879.54M870.68 276.34V292.34M879.54 276.34V292.34" fill="none" stroke="#5f9ea0" stroke-width="2.0"/>
<path d="M922.53 320.40H931.40M922.53 312.40V328.40M931.40 312.40V328.40" fill="none" stroke="#5f9ea0" stroke-width="2.0"/>
<polyline points="852.06,212.23 798.44,248.29 875.11,284.34 926.96,320.40" fill="none" stroke="#5f9ea0" stroke-width="2.0" stroke-linejoin="round"/>
<path d="M768.30 154.54H777.16M768.30 146.54V162.54M777.16 146.54V162.54" fill="none" stroke="#9370db" stroke-width="2.0"/>
<path d="M796.66 176.17H805.53M796.66 168.17V184.17M805.53 168.17V184.17" fill="none" stroke="#9370db" stroke-width="2.0"/>
<path d="M842.31 212.23H906.13M842.31 204.23V220.23M906.13 204.23V220.23" fill="none" stroke="#9370db" stroke-width="2.0"/>
<path d="M879.69 240.29V256.29M880.29 240.29V256.29" fill="none" stroke="#9370db" stroke-width="2.0"/>
<path d="M906.28 276.34V292.34M906.88 276.34V292.34" fill="none" stroke="#9370db" stroke-width="2.0"/>
<path d="M944.25 428.57H957.55M944.25 420.57V436.57M957.55 420.57V436.57" fill="none" stroke="#9370db" stroke-width="2.0"/>
<polyline points="772.73,154.54 801.10,176.17 874.22,212.23 879.99,248.29 906.58,284.34 950.90,428.57" fill="none" stroke="#9370db" stroke-width="2.0" stroke-linejoin="round"/>
<path d="M892.84 158.86H894.61M892.84 150.86V166.86M894.61 150.86V166.86" fill="none" stroke="#9400d3" stroke-width="2.0"/>
<path d="M760.91 168.17V184.17M761.51 168.17V184.17" fill="none" stroke="#9400d3" stroke-width="2.0"/>
<path d="M842.76 212.23H856.05M842.76 204.23V220.23M856.05 204.23V220.23" fill="none" stroke="#9400d3" stroke-width="2.0"/>
<path d="M882.64 248.29H891.51M882.64 240.29V256.29M891.51 240.29V256.29" fill="none" stroke="#9400d3" stroke-width="2.0"/>
<path d="M895.05 284.34H903.92M895.05 276.34V292.34M903.92 276.34V292.34" fill="none" stroke="#9400d3" stroke-width="2.0"/>
<path d="M928.74 320.40H937.60M928.74 312.40V328.40M937.60 312.40V328.40" fill="none" stroke="#9400d3" stroke-width="2.0"/>
<path d="M974.83 356.46H986.35M974.83 348.46V364.46M986.35 348.46V364.46" fill="none" stroke="#9400d3" stroke-width="2.0"/>
<polyline points="893.72,158.86 761.21,176.17 849.40,212.23 887.08,248.29 899.49,284.34 933.17,320.40 980.59,356.46" fill="none" stroke="#9400d3" stroke-width="2.0" stroke-linejoin="round"/>
<path d="M712.60 132.11V148.11M713.20 132.11V148.11" fill="none" stroke="#800080" stroke-width="2.0"/>
<path d="M740.96 150.14V166.14M741.56 150.14V166.14" fill="none" stroke="#800080" stroke-width="2.0"/>
<path d="M786.17 168.17V184.17M786.77 168.17V184.17" fill="none" stroke="#800080" stroke-width="2.0"/>
<path d="M820.74 204.23V220.23M821.34 204.23V220.23" fill="none" stroke="#800080" stroke-width="2.0"/>
<path d="M869.05 240.29V256.29M869.65 240.29V256.29" fill="none" stroke="#800080" stroke-width="2.0"/>
<path d="M925.78 276.34V292.34M926.38 276.34V292.34" fill="none" stroke="#800080" stroke-width="2.0"/>
<path d="M956.80 312.40V328.40M957.40 312.40V328.40" fill="none" stroke="#800080" stroke-width="2.0"/>
<path d="M954.89 356.46H973.50M954.89 348.46V364.46M973.50 348.46V364.46" fill="none" stroke="#800080" stroke-width="2.0"/>
<polyline points="712.90,140.11 741.26,158.14 786.47,176.17 821.04,212.23 869.35,248.29 926.08,284.34 957.10,320.40 964.19,356.46" fill="none" stroke="#800080" stroke-width="2.0" stroke-linejoin="round"/>
</g>
<g clip-path="url(#cC)">
<circle cx="88.60" cy="858.53" r="6.50" fill="#bc8f8f" stroke="#bc8f8f" stroke-width="2.17"/>
<circle cx="88.60" cy="875.36" r="6.50" fill="#bc8f8f" stroke="#bc8f8f" stroke-width="2.17"/>
<circle cx="95.24" cy="883.77" r="6.50" fill="#bc8f8f" stroke="#bc8f8f" stroke-width="2.17"/>
<circle cx="110.75" cy="887.13" r="6.50" fill="#bc8f8f" stroke="#bc8f8f" stroke-width="2.17"/>
<circle cx="125.15" cy="921.62" r="6.50" fill="#bc8f8f" stroke="#bc8f8f" stroke-width="2.17"/>
<circle cx="137.33" cy="951.90" r="6.50" fill="#bc8f8f" stroke="#bc8f8f" stroke-width="2.17"/>
<circle cx="163.91" cy="1007.42" r="6.50" fill="#bc8f8f" stroke="#bc8f8f" stroke-width="2.17"/>
<circle cx="245.86" cy="1067.98" r="6.50" fill="#bc8f8f" stroke="#bc8f8f" stroke-width="2.17"/>
<circle cx="293.49" cy="1088.17" r="6.50" fill="#bc8f8f" stroke="#bc8f8f" stroke-width="2.17"/>
<circle cx="88.60" cy="866.95" r="6.50" fill="#f08080" stroke="#f08080" stroke-width="2.17"/>
<circle cx="88.60" cy="892.18" r="6.50" fill="#f08080" stroke="#f08080" stroke-width="2.17"/>
<circle cx="91.92" cy="883.77" r="6.50" fill="#f08080" stroke="#f08080" stroke-width="2.17"/>
<circle cx="94.58" cy="930.87" r="6.50" fill="#f08080" stroke="#f08080" stroke-width="2.17"/>
<circle cx="105.21" cy="944.33" r="6.50" fill="#f08080" stroke="#f08080" stroke-width="2.17"/>
<circle cx="117.39" cy="962.84" r="6.50" fill="#f08080" stroke="#f08080" stroke-width="2.17"/>
<circle cx="132.90" cy="986.39" r="6.50" fill="#f08080" stroke="#f08080" stroke-width="2.17"/>
<circle cx="163.91" cy="1020.04" r="6.50" fill="#f08080" stroke="#f08080" stroke-width="2.17"/>
<circle cx="88.60" cy="858.53" r="6.50" fill="#dc143c" stroke="#dc143c" stroke-width="2.17"/>
<circle cx="88.60" cy="883.77" r="6.50" fill="#dc143c" stroke="#dc143c" stroke-width="2.17"/>
<circle cx="106.32" cy="898.07" r="6.50" fill="#dc143c" stroke="#dc143c" stroke-width="2.17"/>
<circle cx="130.69" cy="946.86" r="6.50" fill="#dc143c" stroke="#dc143c" stroke-width="2.17"/>
<circle cx="158.37" cy="1004.90" r="6.50" fill="#dc143c" stroke="#dc143c" stroke-width="2.17"/>
<circle cx="261.92" cy="1069.67" r="6.50" fill="#dc143c" stroke="#dc143c" stroke-width="2.17"/>
<circle cx="88.60" cy="795.45" r="6.50" fill="#ff8c00" stroke="#ff8c00" stroke-width="2.17"/>
<circle cx="88.60" cy="824.89" r="6.50" fill="#ff8c00" stroke="#ff8c00" stroke-width="2.17"/>
<circle cx="99.67" cy="853.49" r="6.50" fill="#ff8c00" stroke="#ff8c00" stroke-width="2.17"/>
<circle cx="101.89" cy="865.26" r="6.50" fill="#ff8c00" stroke="#ff8c00" stroke-width="2.17"/>
<circle cx="109.64" cy="883.77" r="6.50" fill="#ff8c00" stroke="#ff8c00" stroke-width="2.17"/>
<circle cx="115.18" cy="914.05" r="6.50" fill="#ff8c00" stroke="#ff8c00" stroke-width="2.17"/>
<circle cx="131.79" cy="938.44" r="6.50" fill="#ff8c00" stroke="#ff8c00" stroke-width="2.17"/>
<circle cx="152.83" cy="999.01" r="6.50" fill="#ff8c00" stroke="#ff8c00" stroke-width="2.17"/>
<circle cx="180.85" cy="1039.38" r="6.50" fill="#ff8c00" stroke="#ff8c00" stroke-width="2.17"/>
<path d="M88.60 784.74L82.10 797.74H95.10Z" fill="#ff8c00" stroke="#ff8c00" stroke-width="2.17"/>
<path d="M88.60 818.39L82.10 831.39H95.10Z" fill="#ff8c00" stroke="#ff8c00" stroke-width="2.17"/>
<path d="M107.43 869.70L100.93 882.70H113.93Z" fill="#ff8c00" stroke="#ff8c00" stroke-width="2.17"/>
<path d="M116.29 905.03L109.79 918.03H122.79Z" fill="#ff8c00" stroke="#ff8c00" stroke-width="2.17"/>
<path d="M121.82 905.03L115.32 918.03H128.32Z" fill="#ff8c00" stroke="#ff8c00" stroke-width="2.17"/>
<path d="M128.47 958.86L121.97 971.86H134.97Z" fill="#ff8c00" stroke="#ff8c00" stroke-width="2.17"/>
<path d="M137.33 978.21L130.83 991.21H143.83Z" fill="#ff8c00" stroke="#ff8c00" stroke-width="2.17"/>
<rect x="82.10" y="784.74" width="13.00" height="13.00" fill="#ff8c00" stroke="#ff8c00" stroke-width="2.17"/>
<rect x="82.10" y="818.39" width="13.00" height="13.00" fill="#ff8c00" stroke="#ff8c00" stroke-width="2.17"/>
<rect x="90.96" y="854.56" width="13.00" height="13.00" fill="#ff8c00" stroke="#ff8c00" stroke-width="2.17"/>
<rect x="94.28" y="868.86" width="13.00" height="13.00" fill="#ff8c00" stroke="#ff8c00" stroke-width="2.17"/>
<rect x="104.25" y="910.91" width="13.00" height="13.00" fill="#ff8c00" stroke="#ff8c00" stroke-width="2.17"/>
<rect x="110.89" y="918.49" width="13.00" height="13.00" fill="#ff8c00" stroke="#ff8c00" stroke-width="2.17"/>
<rect x="104.03" y="936.15" width="13.00" height="13.00" fill="#ff8c00" stroke="#ff8c00" stroke-width="2.17"/>
<rect x="125.29" y="957.18" width="13.00" height="13.00" fill="#ff8c00" stroke="#ff8c00" stroke-width="2.17"/>
<path d="M88.60 783.73L97.79 792.92L88.60 802.11L79.41 792.92Z" fill="#ff8c00" stroke="#ff8c00" stroke-width="2.17"/>
<path d="M88.60 786.26L97.79 795.45L88.60 804.64L79.41 795.45Z" fill="#ff8c00" stroke="#ff8c00" stroke-width="2.17"/>
<path d="M88.60 787.94L97.79 797.13L88.60 806.32L79.41 797.13Z" fill="#ff8c00" stroke="#ff8c00" stroke-width="2.17"/>
<path d="M88.60 790.46L97.79 799.65L88.60 808.84L79.41 799.65Z" fill="#ff8c00" stroke="#ff8c00" stroke-width="2.17"/>
<path d="M88.60 815.70L97.79 824.89L88.60 834.08L79.41 824.89Z" fill="#ff8c00" stroke="#ff8c00" stroke-width="2.17"/>
<path d="M90.81 828.31L100.00 837.50L90.81 846.69L81.62 837.50Z" fill="#ff8c00" stroke="#ff8c00" stroke-width="2.17"/>
<path d="M99.67 864.48L108.86 873.67L99.67 882.86L90.48 873.67Z" fill="#ff8c00" stroke="#ff8c00" stroke-width="2.17"/>
<path d="M108.53 888.04L117.72 897.23L108.53 906.42L99.34 897.23Z" fill="#ff8c00" stroke="#ff8c00" stroke-width="2.17"/>
<path d="M115.18 896.45L124.37 905.64L115.18 914.83L105.99 905.64Z" fill="#ff8c00" stroke="#ff8c00" stroke-width="2.17"/>
<path d="M127.36 925.05L136.55 934.24L127.36 943.43L118.17 934.24Z" fill="#ff8c00" stroke="#ff8c00" stroke-width="2.17"/>
<path d="M132.90 956.17L142.09 965.36L132.90 974.55L123.71 965.36Z" fill="#ff8c00" stroke="#ff8c00" stroke-width="2.17"/>
<circle cx="88.60" cy="858.53" r="6.50" fill="#bdb76b" stroke="#bdb76b" stroke-width="2.17"/>
<circle cx="88.60" cy="883.77" r="6.50" fill="#bdb76b" stroke="#bdb76b" stroke-width="2.17"/>
<circle cx="121.82" cy="942.65" r="6.50" fill="#bdb76b" stroke="#bdb76b" stroke-width="2.17"/>
<circle cx="160.59" cy="1003.21" r="6.50" fill="#bdb76b" stroke="#bdb76b" stroke-width="2.17"/>
<circle cx="250.29" cy="1062.94" r="6.50" fill="#bdb76b" stroke="#bdb76b" stroke-width="2.17"/>
<circle cx="88.60" cy="858.53" r="6.50" fill="#9acd32" stroke="#9acd32" stroke-width="2.17"/>
<circle cx="88.60" cy="883.77" r="6.50" fill="#9acd32" stroke="#9acd32" stroke-width="2.17"/>
<circle cx="110.75" cy="917.41" r="6.50" fill="#9acd32" stroke="#9acd32" stroke-width="2.17"/>
<circle cx="155.71" cy="1004.90" r="6.50" fill="#9acd32" stroke="#9acd32" stroke-width="2.17"/>
<circle cx="196.03" cy="1048.64" r="6.50" fill="#9acd32" stroke="#9acd32" stroke-width="2.17"/>
<circle cx="88.60" cy="866.95" r="6.50" fill="#228b22" stroke="#228b22" stroke-width="2.17"/>
<circle cx="88.60" cy="892.18" r="6.50" fill="#228b22" stroke="#228b22" stroke-width="2.17"/>
<circle cx="91.48" cy="909.00" r="6.50" fill="#228b22" stroke="#228b22" stroke-width="2.17"/>
<circle cx="103.66" cy="930.03" r="6.50" fill="#228b22" stroke="#228b22" stroke-width="2.17"/>
<circle cx="183.84" cy="1037.70" r="6.50" fill="#228b22" stroke="#228b22" stroke-width="2.17"/>
<circle cx="383.86" cy="1106.68" r="6.50" fill="#228b22" stroke="#228b22" stroke-width="2.17"/>
<circle cx="88.60" cy="754.23" r="6.50" fill="#1e90ff" stroke="#1e90ff" stroke-width="2.17"/>
<circle cx="88.60" cy="770.21" r="6.50" fill="#1e90ff" stroke="#1e90ff" stroke-width="2.17"/>
<circle cx="89.15" cy="782.83" r="6.50" fill="#1e90ff" stroke="#1e90ff" stroke-width="2.17"/>
<circle cx="99.67" cy="850.12" r="6.50" fill="#1e90ff" stroke="#1e90ff" stroke-width="2.17"/>
<circle cx="109.64" cy="892.18" r="6.50" fill="#1e90ff" stroke="#1e90ff" stroke-width="2.17"/>
<circle cx="117.39" cy="921.62" r="6.50" fill="#1e90ff" stroke="#1e90ff" stroke-width="2.17"/>
<circle cx="126.25" cy="937.60" r="6.50" fill="#1e90ff" stroke="#1e90ff" stroke-width="2.17"/>
<circle cx="187.61" cy="1032.65" r="6.50" fill="#1e90ff" stroke="#1e90ff" stroke-width="2.17"/>
<path d="M88.60 755.30L82.10 768.30H95.10Z" fill="#1e90ff" stroke="#1e90ff" stroke-width="2.17"/>
<path d="M88.60 793.15L82.10 806.15H95.10Z" fill="#1e90ff" stroke="#1e90ff" stroke-width="2.17"/>
<path d="M102.67 841.94L96.17 854.94H109.17Z" fill="#1e90ff" stroke="#1e90ff" stroke-width="2.17"/>
<path d="M112.97 894.93L106.47 907.93H119.47Z" fill="#1e90ff" stroke="#1e90ff" stroke-width="2.17"/>
<path d="M129.13 907.55L122.63 920.55H135.63Z" fill="#1e90ff" stroke="#1e90ff" stroke-width="2.17"/>
<path d="M130.69 926.06L124.19 939.06H137.19Z" fill="#1e90ff" stroke="#1e90ff" stroke-width="2.17"/>
<path d="M148.96 983.26L142.46 996.26H155.46Z" fill="#1e90ff" stroke="#1e90ff" stroke-width="2.17"/>
<circle cx="88.60" cy="858.53" r="6.50" fill="#0000cd" stroke="#0000cd" stroke-width="2.17"/>
<circle cx="88.60" cy="878.72" r="6.50" fill="#0000cd" stroke="#0000cd" stroke-width="2.17"/>
<circle cx="105.99" cy="908.16" r="6.50" fill="#0000cd" stroke="#0000cd" stroke-width="2.17"/>
<circle cx="161.69" cy="1026.77" r="6.50" fill="#0000cd" stroke="#0000cd" stroke-width="2.17"/>
<circle cx="88.60" cy="790.40" r="6.50" fill="#5f9ea0" stroke="#5f9ea0" stroke-width="2.17"/>
<circle cx="88.60" cy="833.30" r="6.50" fill="#5f9ea0" stroke="#5f9ea0" stroke-width="2.17"/>
<circle cx="91.92" cy="903.12" r="6.50" fill="#5f9ea0" stroke="#5f9ea0" stroke-width="2.17"/>
<circle cx="91.92" cy="917.41" r="6.50" fill="#5f9ea0" stroke="#5f9ea0" stroke-width="2.17"/>
<circle cx="117.39" cy="942.65" r="6.50" fill="#5f9ea0" stroke="#5f9ea0" stroke-width="2.17"/>
<circle cx="112.52" cy="976.30" r="6.50" fill="#5f9ea0" stroke="#5f9ea0" stroke-width="2.17"/>
<circle cx="140.65" cy="1009.10" r="6.50" fill="#5f9ea0" stroke="#5f9ea0" stroke-width="2.17"/>
<circle cx="174.98" cy="1032.65" r="6.50" fill="#5f9ea0" stroke="#5f9ea0" stroke-width="2.17"/>
<circle cx="88.60" cy="779.46" r="6.50" fill="#9370db" stroke="#9370db" stroke-width="2.17"/>
<circle cx="88.60" cy="816.47" r="6.50" fill="#9370db" stroke="#9370db" stroke-width="2.17"/>
<circle cx="109.64" cy="881.24" r="6.50" fill="#9370db" stroke="#9370db" stroke-width="2.17"/>
<circle cx="117.39" cy="909.00" r="6.50" fill="#9370db" stroke="#9370db" stroke-width="2.17"/>
<circle cx="135.12" cy="951.06" r="6.50" fill="#9370db" stroke="#9370db" stroke-width="2.17"/>
<circle cx="149.51" cy="1009.94" r="6.50" fill="#9370db" stroke="#9370db" stroke-width="2.17"/>
<circle cx="293.49" cy="1083.97" r="6.50" fill="#9370db" stroke="#9370db" stroke-width="2.17"/>
<circle cx="88.60" cy="824.89" r="6.50" fill="#9400d3" stroke="#9400d3" stroke-width="2.17"/>
<circle cx="88.60" cy="841.71" r="6.50" fill="#9400d3" stroke="#9400d3" stroke-width="2.17"/>
<circle cx="95.24" cy="854.33" r="6.50" fill="#9400d3" stroke="#9400d3" stroke-width="2.17"/>
<circle cx="104.66" cy="866.95" r="6.50" fill="#9400d3" stroke="#9400d3" stroke-width="2.17"/>
<circle cx="112.52" cy="892.18" r="6.50" fill="#9400d3" stroke="#9400d3" stroke-width="2.17"/>
<circle cx="127.36" cy="943.49" r="6.50" fill="#9400d3" stroke="#9400d3" stroke-width="2.17"/>
<circle cx="141.10" cy="999.85" r="6.50" fill="#9400d3" stroke="#9400d3" stroke-width="2.17"/>
<circle cx="159.70" cy="1020.04" r="6.50" fill="#9400d3" stroke="#9400d3" stroke-width="2.17"/>
<circle cx="243.21" cy="1059.57" r="6.50" fill="#9400d3" stroke="#9400d3" stroke-width="2.17"/>
<circle cx="88.60" cy="803.86" r="6.50" fill="#800080" stroke="#800080" stroke-width="2.17"/>
<circle cx="88.60" cy="812.27" r="6.50" fill="#800080" stroke="#800080" stroke-width="2.17"/>
<circle cx="88.60" cy="822.36" r="6.50" fill="#800080" stroke="#800080" stroke-width="2.17"/>
<circle cx="88.60" cy="829.93" r="6.50" fill="#800080" stroke="#800080" stroke-width="2.17"/>
<circle cx="104.33" cy="870.31" r="6.50" fill="#800080" stroke="#800080" stroke-width="2.17"/>
<circle cx="114.18" cy="905.64" r="6.50" fill="#800080" stroke="#800080" stroke-width="2.17"/>
<circle cx="116.29" cy="929.19" r="6.50" fill="#800080" stroke="#800080" stroke-width="2.17"/>
<circle cx="121.82" cy="956.95" r="6.50" fill="#800080" stroke="#800080" stroke-width="2.17"/>
<circle cx="126.25" cy="977.14" r="6.50" fill="#800080" stroke="#800080" stroke-width="2.17"/>
<circle cx="155.05" cy="1004.06" r="6.50" fill="#800080" stroke="#800080" stroke-width="2.17"/>
<circle cx="167.68" cy="1022.56" r="6.50" fill="#800080" stroke="#800080" stroke-width="2.17"/>
<circle cx="191.60" cy="1043.59" r="6.50" fill="#800080" stroke="#800080" stroke-width="2.17"/>
<path d="M88.30 850.53V866.53M88.90 850.53V866.53" fill="none" stroke="#bc8f8f" stroke-width="2.0"/>
<path d="M88.30 867.36V883.36M88.90 867.36V883.36" fill="none" stroke="#bc8f8f" stroke-width="2.0"/>
<path d="M94.94 875.77V891.77M95.54 875.77V891.77" fill="none" stroke="#bc8f8f" stroke-width="2.0"/>
<path d="M110.45 879.13V895.13M111.05 879.13V895.13" fill="none" stroke="#bc8f8f" stroke-width="2.0"/>
<path d="M124.85 913.62V929.62M125.45 913.62V929.62" fill="none" stroke="#bc8f8f" stroke-width="2.0"/>
<path d="M137.03 943.90V959.90M137.63 943.90V959.90" fill="none" stroke="#bc8f8f" stroke-width="2.0"/>
<path d="M163.61 999.42V1015.42M164.21 999.42V1015.42" fill="none" stroke="#bc8f8f" stroke-width="2.0"/>
<path d="M245.56 1059.98V1075.98M246.16 1059.98V1075.98" fill="none" stroke="#bc8f8f" stroke-width="2.0"/>
<path d="M293.19 1080.17V1096.17M293.79 1080.17V1096.17" fill="none" stroke="#bc8f8f" stroke-width="2.0"/>
<polyline points="88.60,858.53 88.60,875.36 95.24,883.77 110.75,887.13 125.15,921.62 137.33,951.90 163.91,1007.42 245.86,1067.98 293.49,1088.17" fill="none" stroke="#bc8f8f" stroke-width="2.0" stroke-linejoin="round"/>
<path d="M88.30 858.95V874.95M88.90 858.95V874.95" fill="none" stroke="#f08080" stroke-width="2.0"/>
<path d="M88.30 884.18V900.18M88.90 884.18V900.18" fill="none" stroke="#f08080" stroke-width="2.0"/>
<path d="M91.62 875.77V891.77M92.22 875.77V891.77" fill="none" stroke="#f08080" stroke-width="2.0"/>
<path d="M94.28 922.87V938.87M94.88 922.87V938.87" fill="none" stroke="#f08080" stroke-width="2.0"/>
<path d="M104.91 936.33V952.33M105.51 936.33V952.33" fill="none" stroke="#f08080" stroke-width="2.0"/>
<path d="M117.09 954.84V970.84M117.69 954.84V970.84" fill="none" stroke="#f08080" stroke-width="2.0"/>
<path d="M132.60 978.39V994.39M133.20 978.39V994.39" fill="none" stroke="#f08080" stroke-width="2.0"/>
<path d="M163.61 1012.04V1028.04M164.21 1012.04V1028.04" fill="none" stroke="#f08080" stroke-width="2.0"/>
<polyline points="88.60,866.95 88.60,892.18 91.92,883.77 94.58,930.87 105.21,944.33 117.39,962.84 132.90,986.39 163.91,1020.04" fill="none" stroke="#f08080" stroke-width="2.0" stroke-linejoin="round"/>
<path d="M88.30 850.53V866.53M88.90 850.53V866.53" fill="none" stroke="#dc143c" stroke-width="2.0"/>
<path d="M88.30 875.77V891.77M88.90 875.77V891.77" fill="none" stroke="#dc143c" stroke-width="2.0"/>
<path d="M106.02 890.07V906.07M106.62 890.07V906.07" fill="none" stroke="#dc143c" stroke-width="2.0"/>
<path d="M130.38 938.86V954.86M130.99 938.86V954.86" fill="none" stroke="#dc143c" stroke-width="2.0"/>
<path d="M158.07 996.90V1012.90M158.67 996.90V1012.90" fill="none" stroke="#dc143c" stroke-width="2.0"/>
<path d="M261.62 1061.67V1077.67M262.22 1061.67V1077.67" fill="none" stroke="#dc143c" stroke-width="2.0"/>
<polyline points="88.60,858.53 88.60,883.77 106.32,898.07 130.69,946.86 158.37,1004.90 261.92,1069.67" fill="none" stroke="#dc143c" stroke-width="2.0" stroke-linejoin="round"/>
<path d="M88.30 787.45V803.45M88.90 787.45V803.45" fill="none" stroke="#ff8c00" stroke-width="2.0"/>
<path d="M88.30 816.89V832.89M88.90 816.89V832.89" fill="none" stroke="#ff8c00" stroke-width="2.0"/>
<path d="M99.38 845.49V861.49M99.97 845.49V861.49" fill="none" stroke="#ff8c00" stroke-width="2.0"/>
<path d="M101.59 857.26V873.26M102.19 857.26V873.26" fill="none" stroke="#ff8c00" stroke-width="2.0"/>
<path d="M109.34 875.77V891.77M109.94 875.77V891.77" fill="none" stroke="#ff8c00" stroke-width="2.0"/>
<path d="M114.88 906.05V922.05M115.48 906.05V922.05" fill="none" stroke="#ff8c00" stroke-width="2.0"/>
<path d="M131.49 930.44V946.44M132.09 930.44V946.44" fill="none" stroke="#ff8c00" stroke-width="2.0"/>
<path d="M152.53 991.01V1007.01M153.13 991.01V1007.01" fill="none" stroke="#ff8c00" stroke-width="2.0"/>
<path d="M180.55 1031.38V1047.38M181.15 1031.38V1047.38" fill="none" stroke="#ff8c00" stroke-width="2.0"/>
<polyline points="88.60,795.45 88.60,824.89 99.67,853.49 101.89,865.26 109.64,883.77 115.18,914.05 131.79,938.44 152.83,999.01 180.85,1039.38" fill="none" stroke="#ff8c00" stroke-width="2.0" stroke-linejoin="round"/>
<path d="M88.30 783.24V799.24M88.90 783.24V799.24" fill="none" stroke="#ff8c00" stroke-width="2.0"/>
<path d="M88.30 816.89V832.89M88.90 816.89V832.89" fill="none" stroke="#ff8c00" stroke-width="2.0"/>
<path d="M107.13 868.20V884.20M107.73 868.20V884.20" fill="none" stroke="#ff8c00" stroke-width="2.0"/>
<path d="M115.99 903.53V919.53M116.59 903.53V919.53" fill="none" stroke="#ff8c00" stroke-width="2.0"/>
<path d="M121.52 903.53V919.53M122.12 903.53V919.53" fill="none" stroke="#ff8c00" stroke-width="2.0"/>
<path d="M128.17 957.36V973.36M128.77 957.36V973.36" fill="none" stroke="#ff8c00" stroke-width="2.0"/>
<path d="M137.03 976.71V992.71M137.63 976.71V992.71" fill="none" stroke="#ff8c00" stroke-width="2.0"/>
<polyline points="88.60,791.24 88.60,824.89 107.43,876.20 116.29,911.53 121.82,911.53 128.47,965.36 137.33,984.71" fill="none" stroke="#ff8c00" stroke-width="2.0" stroke-linejoin="round"/>
<path d="M88.30 783.24V799.24M88.90 783.24V799.24" fill="none" stroke="#ff8c00" stroke-width="2.0"/>
<path d="M88.30 816.89V832.89M88.90 816.89V832.89" fill="none" stroke="#ff8c00" stroke-width="2.0"/>
<path d="M97.16 853.06V869.06M97.76 853.06V869.06" fill="none" stroke="#ff8c00" stroke-width="2.0"/>
<path d="M100.48 867.36V883.36M101.08 867.36V883.36" fill="none" stroke="#ff8c00" stroke-width="2.0"/>
<path d="M110.45 909.41V925.41M111.05 909.41V925.41" fill="none" stroke="#ff8c00" stroke-width="2.0"/>
<path d="M117.09 916.99V932.99M117.69 916.99V932.99" fill="none" stroke="#ff8c00" stroke-width="2.0"/>
<path d="M110.23 934.65V950.65M110.83 934.65V950.65" fill="none" stroke="#ff8c00" stroke-width="2.0"/>
<path d="M131.49 955.68V971.68M132.09 955.68V971.68" fill="none" stroke="#ff8c00" stroke-width="2.0"/>
<polyline points="88.60,791.24 88.60,824.89 97.46,861.06 100.78,875.36 110.75,917.41 117.39,924.99 110.53,942.65 131.79,963.68" fill="none" stroke="#ff8c00" stroke-width="2.0" stroke-linejoin="round"/>
<path d="M88.30 784.92V800.92M88.90 784.92V800.92" fill="none" stroke="#ff8c00" stroke-width="2.0"/>
<path d="M88.30 787.45V803.45M88.90 787.45V803.45" fill="none" stroke="#ff8c00" stroke-width="2.0"/>
<path d="M88.30 789.13V805.13M88.90 789.13V805.13" fill="none" stroke="#ff8c00" stroke-width="2.0"/>
<path d="M88.30 791.65V807.65M88.90 791.65V807.65" fill="none" stroke="#ff8c00" stroke-width="2.0"/>
<path d="M88.30 816.89V832.89M88.90 816.89V832.89" fill="none" stroke="#ff8c00" stroke-width="2.0"/>
<path d="M90.52 829.50V845.50M91.11 829.50V845.50" fill="none" stroke="#ff8c00" stroke-width="2.0"/>
<path d="M99.38 865.67V881.67M99.97 865.67V881.67" fill="none" stroke="#ff8c00" stroke-width="2.0"/>
<path d="M108.23 889.23V905.23M108.83 889.23V905.23" fill="none" stroke="#ff8c00" stroke-width="2.0"/>
<path d="M114.88 897.64V913.64M115.48 897.64V913.64" fill="none" stroke="#ff8c00" stroke-width="2.0"/>
<path d="M127.06 926.24V942.24M127.66 926.24V942.24" fill="none" stroke="#ff8c00" stroke-width="2.0"/>
<path d="M132.60 957.36V973.36M133.20 957.36V973.36" fill="none" stroke="#ff8c00" stroke-width="2.0"/>
<polyline points="88.60,792.92 88.60,795.45 88.60,797.13 88.60,799.65 88.60,824.89 90.81,837.50 99.67,873.67 108.53,897.23 115.18,905.64 127.36,934.24 132.90,965.36" fill="none" stroke="#ff8c00" stroke-width="2.0" stroke-linejoin="round"/>
<path d="M88.30 850.53V866.53M88.90 850.53V866.53" fill="none" stroke="#bdb76b" stroke-width="2.0"/>
<path d="M88.30 875.77V891.77M88.90 875.77V891.77" fill="none" stroke="#bdb76b" stroke-width="2.0"/>
<path d="M121.52 934.65V950.65M122.12 934.65V950.65" fill="none" stroke="#bdb76b" stroke-width="2.0"/>
<path d="M160.29 995.21V1011.21M160.89 995.21V1011.21" fill="none" stroke="#bdb76b" stroke-width="2.0"/>
<path d="M243.65 1062.94H256.94M243.65 1054.94V1070.94M256.94 1054.94V1070.94" fill="none" stroke="#bdb76b" stroke-width="2.0"/>
<polyline points="88.60,858.53 88.60,883.77 121.82,942.65 160.59,1003.21 250.29,1062.94" fill="none" stroke="#bdb76b" stroke-width="2.0" stroke-linejoin="round"/>
<path d="M88.30 850.53V866.53M88.90 850.53V866.53" fill="none" stroke="#9acd32" stroke-width="2.0"/>
<path d="M88.30 875.77V891.77M88.90 875.77V891.77" fill="none" stroke="#9acd32" stroke-width="2.0"/>
<path d="M110.45 909.41V925.41M111.05 909.41V925.41" fill="none" stroke="#9acd32" stroke-width="2.0"/>
<path d="M155.41 996.90V1012.90M156.01 996.90V1012.90" fill="none" stroke="#9acd32" stroke-width="2.0"/>
<path d="M191.60 1048.64H200.46M191.60 1040.64V1056.64M200.46 1040.64V1056.64" fill="none" stroke="#9acd32" stroke-width="2.0"/>
<polyline points="88.60,858.53 88.60,883.77 110.75,917.41 155.71,1004.90 196.03,1048.64" fill="none" stroke="#9acd32" stroke-width="2.0" stroke-linejoin="round"/>
<path d="M88.30 858.95V874.95M88.90 858.95V874.95" fill="none" stroke="#228b22" stroke-width="2.0"/>
<path d="M88.30 884.18V900.18M88.90 884.18V900.18" fill="none" stroke="#228b22" stroke-width="2.0"/>
<path d="M91.18 901.00V917.00M91.78 901.00V917.00" fill="none" stroke="#228b22" stroke-width="2.0"/>
<path d="M103.36 922.03V938.03M103.96 922.03V938.03" fill="none" stroke="#228b22" stroke-width="2.0"/>
<path d="M183.54 1029.70V1045.70M184.14 1029.70V1045.70" fill="none" stroke="#228b22" stroke-width="2.0"/>
<path d="M370.57 1106.68H397.15M370.57 1098.68V1114.68M397.15 1098.68V1114.68" fill="none" stroke="#228b22" stroke-width="2.0"/>
<polyline points="88.60,866.95 88.60,892.18 91.48,909.00 103.66,930.03 183.84,1037.70 383.86,1106.68" fill="none" stroke="#228b22" stroke-width="2.0" stroke-linejoin="round"/>
<path d="M88.30 746.23V762.23M88.90 746.23V762.23" fill="none" stroke="#1e90ff" stroke-width="2.0"/>
<path d="M88.30 762.21V778.21M88.90 762.21V778.21" fill="none" stroke="#1e90ff" stroke-width="2.0"/>
<path d="M88.85 774.83V790.83M89.45 774.83V790.83" fill="none" stroke="#1e90ff" stroke-width="2.0"/>
<path d="M99.38 842.12V858.12M99.97 842.12V858.12" fill="none" stroke="#1e90ff" stroke-width="2.0"/>
<path d="M109.34 884.18V900.18M109.94 884.18V900.18" fill="none" stroke="#1e90ff" stroke-width="2.0"/>
<path d="M117.09 913.62V929.62M117.69 913.62V929.62" fill="none" stroke="#1e90ff" stroke-width="2.0"/>
<path d="M125.95 929.60V945.60M126.55 929.60V945.60" fill="none" stroke="#1e90ff" stroke-width="2.0"/>
<path d="M187.31 1024.65V1040.65M187.91 1024.65V1040.65" fill="none" stroke="#1e90ff" stroke-width="2.0"/>
<polyline points="88.60,754.23 88.60,770.21 89.15,782.83 99.67,850.12 109.64,892.18 117.39,921.62 126.25,937.60 187.61,1032.65" fill="none" stroke="#1e90ff" stroke-width="2.0" stroke-linejoin="round"/>
<path d="M88.30 753.80V769.80M88.90 753.80V769.80" fill="none" stroke="#1e90ff" stroke-width="2.0"/>
<path d="M88.30 791.65V807.65M88.90 791.65V807.65" fill="none" stroke="#1e90ff" stroke-width="2.0"/>
<path d="M102.37 840.44V856.44M102.97 840.44V856.44" fill="none" stroke="#1e90ff" stroke-width="2.0"/>
<path d="M112.67 893.43V909.43M113.27 893.43V909.43" fill="none" stroke="#1e90ff" stroke-width="2.0"/>
<path d="M128.83 906.05V922.05M129.43 906.05V922.05" fill="none" stroke="#1e90ff" stroke-width="2.0"/>
<path d="M130.38 924.56V940.56M130.99 924.56V940.56" fill="none" stroke="#1e90ff" stroke-width="2.0"/>
<path d="M148.66 981.76V997.76M149.26 981.76V997.76" fill="none" stroke="#1e90ff" stroke-width="2.0"/>
<polyline points="88.60,761.80 88.60,799.65 102.67,848.44 112.97,901.43 129.13,914.05 130.69,932.56 148.96,989.76" fill="none" stroke="#1e90ff" stroke-width="2.0" stroke-linejoin="round"/>
<path d="M88.30 850.53V866.53M88.90 850.53V866.53" fill="none" stroke="#0000cd" stroke-width="2.0"/>
<path d="M88.30 870.72V886.72M88.90 870.72V886.72" fill="none" stroke="#0000cd" stroke-width="2.0"/>
<path d="M105.69 900.16V916.16M106.29 900.16V916.16" fill="none" stroke="#0000cd" stroke-width="2.0"/>
<path d="M161.39 1018.77V1034.77M162.00 1018.77V1034.77" fill="none" stroke="#0000cd" stroke-width="2.0"/>
<polyline points="88.60,858.53 88.60,878.72 105.99,908.16 161.69,1026.77" fill="none" stroke="#0000cd" stroke-width="2.0" stroke-linejoin="round"/>
<path d="M88.30 782.40V798.40M88.90 782.40V798.40" fill="none" stroke="#5f9ea0" stroke-width="2.0"/>
<path d="M88.30 825.30V841.30M88.90 825.30V841.30" fill="none" stroke="#5f9ea0" stroke-width="2.0"/>
<path d="M91.62 895.12V911.12M92.22 895.12V911.12" fill="none" stroke="#5f9ea0" stroke-width="2.0"/>
<path d="M91.62 909.41V925.41M92.22 909.41V925.41" fill="none" stroke="#5f9ea0" stroke-width="2.0"/>
<path d="M117.09 934.65V950.65M117.69 934.65V950.65" fill="none" stroke="#5f9ea0" stroke-width="2.0"/>
<path d="M112.22 968.30V984.30M112.82 968.30V984.30" fill="none" stroke="#5f9ea0" stroke-width="2.0"/>
<path d="M140.35 1001.10V1017.10M140.95 1001.10V1017.10" fill="none" stroke="#5f9ea0" stroke-width="2.0"/>
<path d="M174.68 1024.65V1040.65M175.28 1024.65V1040.65" fill="none" stroke="#5f9ea0" stroke-width="2.0"/>
<polyline points="88.60,790.40 88.60,833.30 91.92,903.12 91.92,917.41 117.39,942.65 112.52,976.30 140.65,1009.10 174.98,1032.65" fill="none" stroke="#5f9ea0" stroke-width="2.0" stroke-linejoin="round"/>
<path d="M88.30 771.46V787.46M88.90 771.46V787.46" fill="none" stroke="#9370db" stroke-width="2.0"/>
<path d="M88.30 808.47V824.47M88.90 808.47V824.47" fill="none" stroke="#9370db" stroke-width="2.0"/>
<path d="M109.34 873.24V889.24M109.94 873.24V889.24" fill="none" stroke="#9370db" stroke-width="2.0"/>
<path d="M117.09 901.00V917.00M117.69 901.00V917.00" fill="none" stroke="#9370db" stroke-width="2.0"/>
<path d="M134.81 943.06V959.06M135.42 943.06V959.06" fill="none" stroke="#9370db" stroke-width="2.0"/>
<path d="M149.21 1001.94V1017.94M149.81 1001.94V1017.94" fill="none" stroke="#9370db" stroke-width="2.0"/>
<path d="M290.16 1083.97H296.81M290.16 1075.97V1091.97M296.81 1075.97V1091.97" fill="none" stroke="#9370db" stroke-width="2.0"/>
<polyline points="88.60,779.46 88.60,816.47 109.64,881.24 117.39,909.00 135.12,951.06 149.51,1009.94 293.49,1083.97" fill="none" stroke="#9370db" stroke-width="2.0" stroke-linejoin="round"/>
<path d="M88.30 816.89V832.89M88.90 816.89V832.89" fill="none" stroke="#9400d3" stroke-width="2.0"/>
<path d="M88.30 833.71V849.71M88.90 833.71V849.71" fill="none" stroke="#9400d3" stroke-width="2.0"/>
<path d="M94.94 846.33V862.33M95.54 846.33V862.33" fill="none" stroke="#9400d3" stroke-width="2.0"/>
<path d="M104.36 858.95V874.95M104.96 858.95V874.95" fill="none" stroke="#9400d3" stroke-width="2.0"/>
<path d="M112.22 884.18V900.18M112.82 884.18V900.18" fill="none" stroke="#9400d3" stroke-width="2.0"/>
<path d="M127.06 935.49V951.49M127.66 935.49V951.49" fill="none" stroke="#9400d3" stroke-width="2.0"/>
<path d="M140.80 991.85V1007.85M141.40 991.85V1007.85" fill="none" stroke="#9400d3" stroke-width="2.0"/>
<path d="M159.40 1012.04V1028.04M160.00 1012.04V1028.04" fill="none" stroke="#9400d3" stroke-width="2.0"/>
<path d="M242.91 1051.57V1067.57M243.51 1051.57V1067.57" fill="none" stroke="#9400d3" stroke-width="2.0"/>
<polyline points="88.60,824.89 88.60,841.71 95.24,854.33 104.66,866.95 112.52,892.18 127.36,943.49 141.10,999.85 159.70,1020.04 243.21,1059.57" fill="none" stroke="#9400d3" stroke-width="2.0" stroke-linejoin="round"/>
<path d="M88.30 795.86V811.86M88.90 795.86V811.86" fill="none" stroke="#800080" stroke-width="2.0"/>
<path d="M88.30 804.27V820.27M88.90 804.27V820.27" fill="none" stroke="#800080" stroke-width="2.0"/>
<path d="M88.30 814.36V830.36M88.90 814.36V830.36" fill="none" stroke="#800080" stroke-width="2.0"/>
<path d="M88.30 821.93V837.93M88.90 821.93V837.93" fill="none" stroke="#800080" stroke-width="2.0"/>
<path d="M104.03 862.31V878.31M104.63 862.31V878.31" fill="none" stroke="#800080" stroke-width="2.0"/>
<path d="M113.88 897.64V913.64M114.48 897.64V913.64" fill="none" stroke="#800080" stroke-width="2.0"/>
<path d="M115.99 921.19V937.19M116.59 921.19V937.19" fill="none" stroke="#800080" stroke-width="2.0"/>
<path d="M121.52 948.95V964.95M122.12 948.95V964.95" fill="none" stroke="#800080" stroke-width="2.0"/>
<path d="M125.95 969.14V985.14M126.55 969.14V985.14" fill="none" stroke="#800080" stroke-width="2.0"/>
<path d="M154.75 996.06V1012.06M155.35 996.06V1012.06" fill="none" stroke="#800080" stroke-width="2.0"/>
<path d="M167.38 1014.56V1030.56M167.98 1014.56V1030.56" fill="none" stroke="#800080" stroke-width="2.0"/>
<path d="M188.28 1043.59H194.92M188.28 1035.59V1051.59M194.92 1035.59V1051.59" fill="none" stroke="#800080" stroke-width="2.0"/>
<polyline points="88.60,803.86 88.60,812.27 88.60,822.36 88.60,829.93 104.33,870.31 114.18,905.64 116.29,929.19 121.82,956.95 126.25,977.14 155.05,1004.06 167.68,1022.56 191.60,1043.59" fill="none" stroke="#800080" stroke-width="2.0" stroke-linejoin="round"/>
</g>
<g clip-path="url(#cD)">
<circle cx="909.24" cy="887.13" r="6.50" fill="#bc8f8f" stroke="#bc8f8f" stroke-width="2.17"/>
<circle cx="852.06" cy="921.62" r="6.50" fill="#bc8f8f" stroke="#bc8f8f" stroke-width="2.17"/>
<circle cx="857.83" cy="951.90" r="6.50" fill="#bc8f8f" stroke="#bc8f8f" stroke-width="2.17"/>
<circle cx="877.77" cy="1007.42" r="6.50" fill="#bc8f8f" stroke="#bc8f8f" stroke-width="2.17"/>
<circle cx="951.34" cy="1067.98" r="6.50" fill="#bc8f8f" stroke="#bc8f8f" stroke-width="2.17"/>
<circle cx="910.57" cy="1088.17" r="6.50" fill="#bc8f8f" stroke="#bc8f8f" stroke-width="2.17"/>
<circle cx="892.84" cy="883.77" r="6.50" fill="#f08080" stroke="#f08080" stroke-width="2.17"/>
<circle cx="810.40" cy="930.87" r="6.50" fill="#f08080" stroke="#f08080" stroke-width="2.17"/>
<circle cx="778.05" cy="944.33" r="6.50" fill="#f08080" stroke="#f08080" stroke-width="2.17"/>
<circle cx="811.73" cy="962.84" r="6.50" fill="#f08080" stroke="#f08080" stroke-width="2.17"/>
<circle cx="854.28" cy="986.39" r="6.50" fill="#f08080" stroke="#f08080" stroke-width="2.17"/>
<circle cx="931.40" cy="1020.04" r="6.50" fill="#f08080" stroke="#f08080" stroke-width="2.17"/>
<circle cx="721.32" cy="898.07" r="6.50" fill="#dc143c" stroke="#dc143c" stroke-width="2.17"/>
<circle cx="824.59" cy="946.86" r="6.50" fill="#dc143c" stroke="#dc143c" stroke-width="2.17"/>
<circle cx="891.51" cy="1004.90" r="6.50" fill="#dc143c" stroke="#dc143c" stroke-width="2.17"/>
<circle cx="974.83" cy="1069.67" r="6.50" fill="#dc143c" stroke="#dc143c" stroke-width="2.17"/>
<circle cx="708.02" cy="853.49" r="6.50" fill="#ff8c00" stroke="#ff8c00" stroke-width="2.17"/>
<circle cx="674.34" cy="865.26" r="6.50" fill="#ff8c00" stroke="#ff8c00" stroke-width="2.17"/>
<circle cx="719.99" cy="883.77" r="6.50" fill="#ff8c00" stroke="#ff8c00" stroke-width="2.17"/>
<circle cx="732.84" cy="914.05" r="6.50" fill="#ff8c00" stroke="#ff8c00" stroke-width="2.17"/>
<circle cx="825.47" cy="938.44" r="6.50" fill="#ff8c00" stroke="#ff8c00" stroke-width="2.17"/>
<circle cx="884.42" cy="999.01" r="6.50" fill="#ff8c00" stroke="#ff8c00" stroke-width="2.17"/>
<circle cx="938.49" cy="1039.38" r="6.50" fill="#ff8c00" stroke="#ff8c00" stroke-width="2.17"/>
<path d="M736.39 869.70L729.89 882.70H742.89Z" fill="#ff8c00" stroke="#ff8c00" stroke-width="2.17"/>
<path d="M772.29 905.03L765.79 918.03H778.79Z" fill="#ff8c00" stroke="#ff8c00" stroke-width="2.17"/>
<path d="M812.62 905.03L806.12 918.03H819.12Z" fill="#ff8c00" stroke="#ff8c00" stroke-width="2.17"/>
<path d="M838.77 958.86L832.27 971.86H845.27Z" fill="#ff8c00" stroke="#ff8c00" stroke-width="2.17"/>
<path d="M869.79 978.21L863.29 991.21H876.29Z" fill="#ff8c00" stroke="#ff8c00" stroke-width="2.17"/>
<rect x="660.31" y="854.56" width="13.00" height="13.00" fill="#ff8c00" stroke="#ff8c00" stroke-width="2.17"/>
<rect x="651.89" y="868.86" width="13.00" height="13.00" fill="#ff8c00" stroke="#ff8c00" stroke-width="2.17"/>
<rect x="735.21" y="910.91" width="13.00" height="13.00" fill="#ff8c00" stroke="#ff8c00" stroke-width="2.17"/>
<rect x="795.04" y="918.49" width="13.00" height="13.00" fill="#ff8c00" stroke="#ff8c00" stroke-width="2.17"/>
<rect x="826.51" y="936.15" width="13.00" height="13.00" fill="#ff8c00" stroke="#ff8c00" stroke-width="2.17"/>
<rect x="858.86" y="957.18" width="13.00" height="13.00" fill="#ff8c00" stroke="#ff8c00" stroke-width="2.17"/>
<path d="M647.31 864.48L656.50 873.67L647.31 882.86L638.12 873.67Z" fill="#ff8c00" stroke="#ff8c00" stroke-width="2.17"/>
<path d="M708.91 888.04L718.10 897.23L708.91 906.42L699.72 897.23Z" fill="#ff8c00" stroke="#ff8c00" stroke-width="2.17"/>
<path d="M755.45 896.45L764.64 905.64L755.45 914.83L746.26 905.64Z" fill="#ff8c00" stroke="#ff8c00" stroke-width="2.17"/>
<path d="M816.61 925.05L825.80 934.24L816.61 943.43L807.42 934.24Z" fill="#ff8c00" stroke="#ff8c00" stroke-width="2.17"/>
<path d="M843.20 956.17L852.39 965.36L843.20 974.55L834.01 965.36Z" fill="#ff8c00" stroke="#ff8c00" stroke-width="2.17"/>
<circle cx="922.98" cy="942.65" r="6.50" fill="#bdb76b" stroke="#bdb76b" stroke-width="2.17"/>
<circle cx="964.64" cy="973.77" r="6.50" fill="#bdb76b" stroke="#bdb76b" stroke-width="2.17"/>
<circle cx="973.94" cy="1003.21" r="6.50" fill="#bdb76b" stroke="#bdb76b" stroke-width="2.17"/>
<circle cx="987.24" cy="1062.94" r="6.50" fill="#bdb76b" stroke="#bdb76b" stroke-width="2.17"/>
<circle cx="961.98" cy="1004.90" r="6.50" fill="#9acd32" stroke="#9acd32" stroke-width="2.17"/>
<circle cx="938.49" cy="1048.64" r="6.50" fill="#9acd32" stroke="#9acd32" stroke-width="2.17"/>
<circle cx="924.75" cy="930.03" r="6.50" fill="#228b22" stroke="#228b22" stroke-width="2.17"/>
<circle cx="972.17" cy="1037.70" r="6.50" fill="#228b22" stroke="#228b22" stroke-width="2.17"/>
<circle cx="925.64" cy="1106.68" r="6.50" fill="#228b22" stroke="#228b22" stroke-width="2.17"/>
<circle cx="838.77" cy="892.18" r="6.50" fill="#1e90ff" stroke="#1e90ff" stroke-width="2.17"/>
<circle cx="851.18" cy="921.62" r="6.50" fill="#1e90ff" stroke="#1e90ff" stroke-width="2.17"/>
<circle cx="876.44" cy="937.60" r="6.50" fill="#1e90ff" stroke="#1e90ff" stroke-width="2.17"/>
<circle cx="939.82" cy="1032.65" r="6.50" fill="#1e90ff" stroke="#1e90ff" stroke-width="2.17"/>
<path d="M781.15 841.94L774.65 854.94H787.65Z" fill="#1e90ff" stroke="#1e90ff" stroke-width="2.17"/>
<path d="M828.13 894.93L821.63 907.93H834.63Z" fill="#1e90ff" stroke="#1e90ff" stroke-width="2.17"/>
<path d="M863.59 907.55L857.09 920.55H870.09Z" fill="#1e90ff" stroke="#1e90ff" stroke-width="2.17"/>
<path d="M882.20 926.06L875.70 939.06H888.70Z" fill="#1e90ff" stroke="#1e90ff" stroke-width="2.17"/>
<path d="M923.42 983.26L916.92 996.26H929.92Z" fill="#1e90ff" stroke="#1e90ff" stroke-width="2.17"/>
<circle cx="739.49" cy="908.16" r="6.50" fill="#0000cd" stroke="#0000cd" stroke-width="2.17"/>
<circle cx="945.58" cy="1026.77" r="6.50" fill="#0000cd" stroke="#0000cd" stroke-width="2.17"/>
<circle cx="842.31" cy="903.12" r="6.50" fill="#5f9ea0" stroke="#5f9ea0" stroke-width="2.17"/>
<circle cx="852.06" cy="942.65" r="6.50" fill="#5f9ea0" stroke="#5f9ea0" stroke-width="2.17"/>
<circle cx="798.44" cy="976.30" r="6.50" fill="#5f9ea0" stroke="#5f9ea0" stroke-width="2.17"/>
<circle cx="875.11" cy="1009.10" r="6.50" fill="#5f9ea0" stroke="#5f9ea0" stroke-width="2.17"/>
<circle cx="926.96" cy="1032.65" r="6.50" fill="#5f9ea0" stroke="#5f9ea0" stroke-width="2.17"/>
<circle cx="772.73" cy="881.24" r="6.50" fill="#9370db" stroke="#9370db" stroke-width="2.17"/>
<circle cx="801.10" cy="909.00" r="6.50" fill="#9370db" stroke="#9370db" stroke-width="2.17"/>
<circle cx="874.22" cy="951.06" r="6.50" fill="#9370db" stroke="#9370db" stroke-width="2.17"/>
<circle cx="879.99" cy="976.30" r="6.50" fill="#9370db" stroke="#9370db" stroke-width="2.17"/>
<circle cx="906.58" cy="1009.94" r="6.50" fill="#9370db" stroke="#9370db" stroke-width="2.17"/>
<circle cx="950.90" cy="1083.97" r="6.50" fill="#9370db" stroke="#9370db" stroke-width="2.17"/>
<circle cx="893.72" cy="866.95" r="6.50" fill="#9400d3" stroke="#9400d3" stroke-width="2.17"/>
<circle cx="761.21" cy="892.18" r="6.50" fill="#9400d3" stroke="#9400d3" stroke-width="2.17"/>
<circle cx="849.40" cy="943.49" r="6.50" fill="#9400d3" stroke="#9400d3" stroke-width="2.17"/>
<circle cx="887.08" cy="974.61" r="6.50" fill="#9400d3" stroke="#9400d3" stroke-width="2.17"/>
<circle cx="899.49" cy="999.85" r="6.50" fill="#9400d3" stroke="#9400d3" stroke-width="2.17"/>
<circle cx="933.17" cy="1020.04" r="6.50" fill="#9400d3" stroke="#9400d3" stroke-width="2.17"/>
<circle cx="980.59" cy="1059.57" r="6.50" fill="#9400d3" stroke="#9400d3" stroke-width="2.17"/>
<circle cx="712.90" cy="870.31" r="6.50" fill="#800080" stroke="#800080" stroke-width="2.17"/>
<circle cx="741.26" cy="905.64" r="6.50" fill="#800080" stroke="#800080" stroke-width="2.17"/>
<circle cx="786.47" cy="929.19" r="6.50" fill="#800080" stroke="#800080" stroke-width="2.17"/>
<circle cx="821.04" cy="956.95" r="6.50" fill="#800080" stroke="#800080" stroke-width="2.17"/>
<circle cx="869.35" cy="977.14" r="6.50" fill="#800080" stroke="#800080" stroke-width="2.17"/>
<circle cx="926.08" cy="1004.06" r="6.50" fill="#800080" stroke="#800080" stroke-width="2.17"/>
<circle cx="957.10" cy="1022.56" r="6.50" fill="#800080" stroke="#800080" stroke-width="2.17"/>
<circle cx="964.19" cy="1043.59" r="6.50" fill="#800080" stroke="#800080" stroke-width="2.17"/>
<path d="M900.82 887.13H917.66M900.82 879.13V895.13M917.66 879.13V895.13" fill="none" stroke="#bc8f8f" stroke-width="2.0"/>
<path d="M845.42 921.62H858.71M845.42 913.62V929.62M858.71 913.62V929.62" fill="none" stroke="#bc8f8f" stroke-width="2.0"/>
<path d="M857.53 943.90V959.90M858.13 943.90V959.90" fill="none" stroke="#bc8f8f" stroke-width="2.0"/>
<path d="M864.47 1007.42H891.07M864.47 999.42V1015.42M891.07 999.42V1015.42" fill="none" stroke="#bc8f8f" stroke-width="2.0"/>
<path d="M940.26 1067.98H962.42M940.26 1059.98V1075.98M962.42 1059.98V1075.98" fill="none" stroke="#bc8f8f" stroke-width="2.0"/>
<path d="M902.15 1088.17H918.99M902.15 1080.17V1096.17M918.99 1080.17V1096.17" fill="none" stroke="#bc8f8f" stroke-width="2.0"/>
<polyline points="909.24,887.13 852.06,921.62 857.83,951.90 877.77,1007.42 951.34,1067.98 910.57,1088.17" fill="none" stroke="#bc8f8f" stroke-width="2.0" stroke-linejoin="round"/>
<path d="M887.52 883.77H898.16M887.52 875.77V891.77M898.16 875.77V891.77" fill="none" stroke="#f08080" stroke-width="2.0"/>
<path d="M810.10 922.87V938.87M810.70 922.87V938.87" fill="none" stroke="#f08080" stroke-width="2.0"/>
<path d="M777.75 936.33V952.33M778.35 936.33V952.33" fill="none" stroke="#f08080" stroke-width="2.0"/>
<path d="M797.55 962.84H825.92M797.55 954.84V970.84M825.92 954.84V970.84" fill="none" stroke="#f08080" stroke-width="2.0"/>
<path d="M853.98 978.39V994.39M854.58 978.39V994.39" fill="none" stroke="#f08080" stroke-width="2.0"/>
<path d="M922.09 1020.04H940.70M922.09 1012.04V1028.04M940.70 1012.04V1028.04" fill="none" stroke="#f08080" stroke-width="2.0"/>
<polyline points="892.84,883.77 810.40,930.87 778.05,944.33 811.73,962.84 854.28,986.39 931.40,1020.04" fill="none" stroke="#f08080" stroke-width="2.0" stroke-linejoin="round"/>
<path d="M716.89 898.07H725.75M716.89 890.07V906.07M725.75 890.07V906.07" fill="none" stroke="#dc143c" stroke-width="2.0"/>
<path d="M824.29 938.86V954.86M824.89 938.86V954.86" fill="none" stroke="#dc143c" stroke-width="2.0"/>
<path d="M891.21 996.90V1012.90M891.81 996.90V1012.90" fill="none" stroke="#dc143c" stroke-width="2.0"/>
<path d="M974.53 1061.67V1077.67M975.13 1061.67V1077.67" fill="none" stroke="#dc143c" stroke-width="2.0"/>
<polyline points="721.32,898.07 824.59,946.86 891.51,1004.90 974.83,1069.67" fill="none" stroke="#dc143c" stroke-width="2.0" stroke-linejoin="round"/>
<path d="M707.72 845.49V861.49M708.32 845.49V861.49" fill="none" stroke="#ff8c00" stroke-width="2.0"/>
<path d="M664.59 865.26H684.09M664.59 857.26V873.26M684.09 857.26V873.26" fill="none" stroke="#ff8c00" stroke-width="2.0"/>
<path d="M719.69 875.77V891.77M720.29 875.77V891.77" fill="none" stroke="#ff8c00" stroke-width="2.0"/>
<path d="M718.66 914.05H747.03M718.66 906.05V922.05M747.03 906.05V922.05" fill="none" stroke="#ff8c00" stroke-width="2.0"/>
<path d="M825.17 930.44V946.44M825.77 930.44V946.44" fill="none" stroke="#ff8c00" stroke-width="2.0"/>
<path d="M884.12 991.01V1007.01M884.72 991.01V1007.01" fill="none" stroke="#ff8c00" stroke-width="2.0"/>
<path d="M931.84 1039.38H945.14M931.84 1031.38V1047.38M945.14 1031.38V1047.38" fill="none" stroke="#ff8c00" stroke-width="2.0"/>
<polyline points="708.02,853.49 674.34,865.26 719.99,883.77 732.84,914.05 825.47,938.44 884.42,999.01 938.49,1039.38" fill="none" stroke="#ff8c00" stroke-width="2.0" stroke-linejoin="round"/>
<path d="M727.52 876.20H745.25M727.52 868.20V884.20M745.25 868.20V884.20" fill="none" stroke="#ff8c00" stroke-width="2.0"/>
<path d="M763.42 911.53H781.15M763.42 903.53V919.53M781.15 903.53V919.53" fill="none" stroke="#ff8c00" stroke-width="2.0"/>
<path d="M803.76 911.53H821.48M803.76 903.53V919.53M821.48 903.53V919.53" fill="none" stroke="#ff8c00" stroke-width="2.0"/>
<path d="M838.47 957.36V973.36M839.07 957.36V973.36" fill="none" stroke="#ff8c00" stroke-width="2.0"/>
<path d="M869.49 976.71V992.71M870.09 976.71V992.71" fill="none" stroke="#ff8c00" stroke-width="2.0"/>
<polyline points="736.39,876.20 772.29,911.53 812.62,911.53 838.77,965.36 869.79,984.71" fill="none" stroke="#ff8c00" stroke-width="2.0" stroke-linejoin="round"/>
<path d="M662.37 861.06H671.24M662.37 853.06V869.06M671.24 853.06V869.06" fill="none" stroke="#ff8c00" stroke-width="2.0"/>
<path d="M658.09 867.36V883.36M658.69 867.36V883.36" fill="none" stroke="#ff8c00" stroke-width="2.0"/>
<path d="M741.41 909.41V925.41M742.01 909.41V925.41" fill="none" stroke="#ff8c00" stroke-width="2.0"/>
<path d="M801.24 916.99V932.99M801.84 916.99V932.99" fill="none" stroke="#ff8c00" stroke-width="2.0"/>
<path d="M832.71 934.65V950.65M833.31 934.65V950.65" fill="none" stroke="#ff8c00" stroke-width="2.0"/>
<path d="M865.06 955.68V971.68M865.66 955.68V971.68" fill="none" stroke="#ff8c00" stroke-width="2.0"/>
<polyline points="666.81,861.06 658.39,875.36 741.71,917.41 801.54,924.99 833.01,942.65 865.36,963.68" fill="none" stroke="#ff8c00" stroke-width="2.0" stroke-linejoin="round"/>
<path d="M647.01 865.67V881.67M647.61 865.67V881.67" fill="none" stroke="#ff8c00" stroke-width="2.0"/>
<path d="M708.61 889.23V905.23M709.21 889.23V905.23" fill="none" stroke="#ff8c00" stroke-width="2.0"/>
<path d="M755.15 897.64V913.64M755.75 897.64V913.64" fill="none" stroke="#ff8c00" stroke-width="2.0"/>
<path d="M816.31 926.24V942.24M816.91 926.24V942.24" fill="none" stroke="#ff8c00" stroke-width="2.0"/>
<path d="M842.90 957.36V973.36M843.50 957.36V973.36" fill="none" stroke="#ff8c00" stroke-width="2.0"/>
<polyline points="647.31,873.67 708.91,897.23 755.45,905.64 816.61,934.24 843.20,965.36" fill="none" stroke="#ff8c00" stroke-width="2.0" stroke-linejoin="round"/>
<path d="M922.68 934.65V950.65M923.28 934.65V950.65" fill="none" stroke="#bdb76b" stroke-width="2.0"/>
<path d="M964.34 965.77V981.77M964.94 965.77V981.77" fill="none" stroke="#bdb76b" stroke-width="2.0"/>
<path d="M957.55 1003.21H990.34M957.55 995.21V1011.21M990.34 995.21V1011.21" fill="none" stroke="#bdb76b" stroke-width="2.0"/>
<path d="M985.02 1062.94H989.46M985.02 1054.94V1070.94M989.46 1054.94V1070.94" fill="none" stroke="#bdb76b" stroke-width="2.0"/>
<polyline points="922.98,942.65 964.64,973.77 973.94,1003.21 987.24,1062.94" fill="none" stroke="#bdb76b" stroke-width="2.0" stroke-linejoin="round"/>
<path d="M956.22 1004.90H967.74M956.22 996.90V1012.90M967.74 996.90V1012.90" fill="none" stroke="#9acd32" stroke-width="2.0"/>
<path d="M936.27 1048.64H940.70M936.27 1040.64V1056.64M940.70 1040.64V1056.64" fill="none" stroke="#9acd32" stroke-width="2.0"/>
<polyline points="961.98,1004.90 938.49,1048.64" fill="none" stroke="#9acd32" stroke-width="2.0" stroke-linejoin="round"/>
<path d="M924.45 922.03V938.03M925.05 922.03V938.03" fill="none" stroke="#228b22" stroke-width="2.0"/>
<path d="M950.90 1037.70H993.44M950.90 1029.70V1045.70M993.44 1029.70V1045.70" fill="none" stroke="#228b22" stroke-width="2.0"/>
<path d="M919.87 1106.68H931.40M919.87 1098.68V1114.68M931.40 1098.68V1114.68" fill="none" stroke="#228b22" stroke-width="2.0"/>
<polyline points="924.75,930.03 972.17,1037.70 925.64,1106.68" fill="none" stroke="#228b22" stroke-width="2.0" stroke-linejoin="round"/>
<path d="M829.02 892.18H848.52M829.02 884.18V900.18M848.52 884.18V900.18" fill="none" stroke="#1e90ff" stroke-width="2.0"/>
<path d="M842.31 921.62H860.04M842.31 913.62V929.62M860.04 913.62V929.62" fill="none" stroke="#1e90ff" stroke-width="2.0"/>
<path d="M872.01 937.60H880.87M872.01 929.60V945.60M880.87 929.60V945.60" fill="none" stroke="#1e90ff" stroke-width="2.0"/>
<path d="M933.17 1032.65H946.47M933.17 1024.65V1040.65M946.47 1024.65V1040.65" fill="none" stroke="#1e90ff" stroke-width="2.0"/>
<polyline points="838.77,892.18 851.18,921.62 876.44,937.60 939.82,1032.65" fill="none" stroke="#1e90ff" stroke-width="2.0" stroke-linejoin="round"/>
<path d="M774.06 848.44H788.24M774.06 840.44V856.44M788.24 840.44V856.44" fill="none" stroke="#1e90ff" stroke-width="2.0"/>
<path d="M819.27 901.43H837.00M819.27 893.43V909.43M837.00 893.43V909.43" fill="none" stroke="#1e90ff" stroke-width="2.0"/>
<path d="M855.61 914.05H871.56M855.61 906.05V922.05M871.56 906.05V922.05" fill="none" stroke="#1e90ff" stroke-width="2.0"/>
<path d="M873.34 932.56H891.07M873.34 924.56V940.56M891.07 924.56V940.56" fill="none" stroke="#1e90ff" stroke-width="2.0"/>
<path d="M913.67 989.76H933.17M913.67 981.76V997.76M933.17 981.76V997.76" fill="none" stroke="#1e90ff" stroke-width="2.0"/>
<polyline points="781.15,848.44 828.13,901.43 863.59,914.05 882.20,932.56 923.42,989.76" fill="none" stroke="#1e90ff" stroke-width="2.0" stroke-linejoin="round"/>
<path d="M735.06 908.16H743.92M735.06 900.16V916.16M743.92 900.16V916.16" fill="none" stroke="#0000cd" stroke-width="2.0"/>
<path d="M945.28 1018.77V1034.77M945.88 1018.77V1034.77" fill="none" stroke="#0000cd" stroke-width="2.0"/>
<polyline points="739.49,908.16 945.58,1026.77" fill="none" stroke="#0000cd" stroke-width="2.0" stroke-linejoin="round"/>
<path d="M837.88 903.12H846.75M837.88 895.12V911.12M846.75 895.12V911.12" fill="none" stroke="#5f9ea0" stroke-width="2.0"/>
<path d="M851.76 934.65V950.65M852.36 934.65V950.65" fill="none" stroke="#5f9ea0" stroke-width="2.0"/>
<path d="M788.69 976.30H808.19M788.69 968.30V984.30M808.19 968.30V984.30" fill="none" stroke="#5f9ea0" stroke-width="2.0"/>
<path d="M870.68 1009.10H879.54M870.68 1001.10V1017.10M879.54 1001.10V1017.10" fill="none" stroke="#5f9ea0" stroke-width="2.0"/>
<path d="M922.53 1032.65H931.40M922.53 1024.65V1040.65M931.40 1024.65V1040.65" fill="none" stroke="#5f9ea0" stroke-width="2.0"/>
<polyline points="852.06,942.65 798.44,976.30 875.11,1009.10 926.96,1032.65" fill="none" stroke="#5f9ea0" stroke-width="2.0" stroke-linejoin="round"/>
<path d="M768.30 881.24H777.16M768.30 873.24V889.24M777.16 873.24V889.24" fill="none" stroke="#9370db" stroke-width="2.0"/>
<path d="M796.66 909.00H805.53M796.66 901.00V917.00M805.53 901.00V917.00" fill="none" stroke="#9370db" stroke-width="2.0"/>
<path d="M842.31 951.06H906.13M842.31 943.06V959.06M906.13 943.06V959.06" fill="none" stroke="#9370db" stroke-width="2.0"/>
<path d="M879.69 968.30V984.30M880.29 968.30V984.30" fill="none" stroke="#9370db" stroke-width="2.0"/>
<path d="M906.28 1001.94V1017.94M906.88 1001.94V1017.94" fill="none" stroke="#9370db" stroke-width="2.0"/>
<path d="M944.25 1083.97H957.55M944.25 1075.97V1091.97M957.55 1075.97V1091.97" fill="none" stroke="#9370db" stroke-width="2.0"/>
<polyline points="772.73,881.24 801.10,909.00 874.22,951.06 879.99,976.30 906.58,1009.94 950.90,1083.97" fill="none" stroke="#9370db" stroke-width="2.0" stroke-linejoin="round"/>
<path d="M892.84 866.95H894.61M892.84 858.95V874.95M894.61 858.95V874.95" fill="none" stroke="#9400d3" stroke-width="2.0"/>
<path d="M760.91 884.18V900.18M761.51 884.18V900.18" fill="none" stroke="#9400d3" stroke-width="2.0"/>
<path d="M842.76 943.49H856.05M842.76 935.49V951.49M856.05 935.49V951.49" fill="none" stroke="#9400d3" stroke-width="2.0"/>
<path d="M882.64 974.61H891.51M882.64 966.61V982.61M891.51 966.61V982.61" fill="none" stroke="#9400d3" stroke-width="2.0"/>
<path d="M895.05 999.85H903.92M895.05 991.85V1007.85M903.92 991.85V1007.85" fill="none" stroke="#9400d3" stroke-width="2.0"/>
<path d="M928.74 1020.04H937.60M928.74 1012.04V1028.04M937.60 1012.04V1028.04" fill="none" stroke="#9400d3" stroke-width="2.0"/>
<path d="M974.83 1059.57H986.35M974.83 1051.57V1067.57M986.35 1051.57V1067.57" fill="none" stroke="#9400d3" stroke-width="2.0"/>
<polyline points="893.72,866.95 761.21,892.18 849.40,943.49 887.08,974.61 899.49,999.85 933.17,1020.04 980.59,1059.57" fill="none" stroke="#9400d3" stroke-width="2.0" stroke-linejoin="round"/>
<path d="M712.60 862.31V878.31M713.20 862.31V878.31" fill="none" stroke="#800080" stroke-width="2.0"/>
<path d="M740.96 897.64V913.64M741.56 897.64V913.64" fill="none" stroke="#800080" stroke-width="2.0"/>
<path d="M786.17 921.19V937.19M786.77 921.19V937.19" fill="none" stroke="#800080" stroke-width="2.0"/>
<path d="M820.74 948.95V964.95M821.34 948.95V964.95" fill="none" stroke="#800080" stroke-width="2.0"/>
<path d="M869.05 969.14V985.14M869.65 969.14V985.14" fill="none" stroke="#800080" stroke-width="2.0"/>
<path d="M925.78 996.06V1012.06M926.38 996.06V1012.06" fill="none" stroke="#800080" stroke-width="2.0"/>
<path d="M956.80 1014.56V1030.56M957.40 1014.56V1030.56" fill="none" stroke="#800080" stroke-width="2.0"/>
<path d="M954.89 1043.59H973.50M954.89 1035.59V1051.59M973.50 1035.59V1051.59" fill="none" stroke="#800080" stroke-width="2.0"/>
<polyline points="712.90,870.31 741.26,905.64 786.47,929.19 821.04,956.95 869.35,977.14 926.08,1004.06 957.10,1022.56 964.19,1043.59" fill="none" stroke="#800080" stroke-width="2.0" stroke-linejoin="round"/>
</g>
<line x1="87.73" y1="68.00" x2="532.47" y2="68.00" stroke="#000" stroke-width="1.73"/>
<line x1="88.60" y1="68.00" x2="88.60" y2="60.40" stroke="#000" stroke-width="1.73"/>
<text x="82.24" y="48.50" font-size="23.00" textLength="12.72" lengthAdjust="spacingAndGlyphs">0</text>
<line x1="143.97" y1="68.00" x2="143.97" y2="60.40" stroke="#000" stroke-width="1.73"/>
<text x="137.99" y="48.50" font-size="23.00" textLength="12.01" lengthAdjust="spacingAndGlyphs">5</text>
<line x1="199.35" y1="68.00" x2="199.35" y2="60.40" stroke="#000" stroke-width="1.73"/>
<text x="185.64" y="48.50" font-size="23.00" textLength="26.54" lengthAdjust="spacingAndGlyphs">10</text>
<line x1="254.72" y1="68.00" x2="254.72" y2="60.40" stroke="#000" stroke-width="1.73"/>
<text x="241.27" y="48.50" font-size="23.00" textLength="26.10" lengthAdjust="spacingAndGlyphs">15</text>
<line x1="310.10" y1="68.00" x2="310.10" y2="60.40" stroke="#000" stroke-width="1.73"/>
<text x="296.60" y="48.50" font-size="23.00" textLength="26.73" lengthAdjust="spacingAndGlyphs">20</text>
<line x1="365.48" y1="68.00" x2="365.48" y2="60.40" stroke="#000" stroke-width="1.73"/>
<text x="352.22" y="48.50" font-size="23.00" textLength="26.31" lengthAdjust="spacingAndGlyphs">25</text>
<line x1="420.85" y1="68.00" x2="420.85" y2="60.40" stroke="#000" stroke-width="1.73"/>
<text x="407.69" y="48.50" font-size="23.00" textLength="26.35" lengthAdjust="spacingAndGlyphs">30</text>
<line x1="476.23" y1="68.00" x2="476.23" y2="60.40" stroke="#000" stroke-width="1.73"/>
<text x="463.31" y="48.50" font-size="23.00" textLength="25.93" lengthAdjust="spacingAndGlyphs">35</text>
<line x1="531.60" y1="68.00" x2="531.60" y2="60.40" stroke="#000" stroke-width="1.73"/>
<text x="518.50" y="48.50" font-size="23.00" textLength="26.59" lengthAdjust="spacingAndGlyphs">40</text>
<line x1="88.60" y1="67.14" x2="88.60" y2="573.66" stroke="#000" stroke-width="1.73"/>
<line x1="88.60" y1="68.00" x2="81.00" y2="68.00" stroke="#000" stroke-width="1.73"/>
<text x="60.37" y="76.90" font-size="23.00" textLength="12.72" lengthAdjust="spacingAndGlyphs">0</text>
<line x1="88.60" y1="140.11" x2="81.00" y2="140.11" stroke="#000" stroke-width="1.73"/>
<text x="32.76" y="149.01" font-size="23.00" textLength="40.38" lengthAdjust="spacingAndGlyphs">100</text>
<line x1="88.60" y1="212.23" x2="81.00" y2="212.23" stroke="#000" stroke-width="1.73"/>
<text x="32.59" y="221.13" font-size="23.00" textLength="40.56" lengthAdjust="spacingAndGlyphs">200</text>
<line x1="88.60" y1="284.34" x2="81.00" y2="284.34" stroke="#000" stroke-width="1.73"/>
<text x="32.96" y="293.24" font-size="23.00" textLength="40.18" lengthAdjust="spacingAndGlyphs">300</text>
<line x1="88.60" y1="356.46" x2="81.00" y2="356.46" stroke="#000" stroke-width="1.73"/>
<text x="32.73" y="365.36" font-size="23.00" textLength="40.42" lengthAdjust="spacingAndGlyphs">400</text>
<line x1="88.60" y1="428.57" x2="81.00" y2="428.57" stroke="#000" stroke-width="1.73"/>
<text x="32.93" y="437.47" font-size="23.00" textLength="40.21" lengthAdjust="spacingAndGlyphs">500</text>
<line x1="88.60" y1="500.69" x2="81.00" y2="500.69" stroke="#000" stroke-width="1.73"/>
<text x="32.50" y="509.59" font-size="23.00" textLength="40.65" lengthAdjust="spacingAndGlyphs">600</text>
<line x1="88.60" y1="572.80" x2="81.00" y2="572.80" stroke="#000" stroke-width="1.73"/>
<text x="32.76" y="581.70" font-size="23.00" textLength="40.38" lengthAdjust="spacingAndGlyphs">700</text>
<line x1="620.74" y1="68.00" x2="1065.66" y2="68.00" stroke="#000" stroke-width="1.73"/>
<line x1="621.60" y1="68.00" x2="621.60" y2="60.40" stroke="#000" stroke-width="1.73"/>
<text x="615.24" y="48.50" font-size="23.00" textLength="12.72" lengthAdjust="spacingAndGlyphs">0</text>
<line x1="710.24" y1="68.00" x2="710.24" y2="60.40" stroke="#000" stroke-width="1.73"/>
<text x="704.11" y="48.50" font-size="23.00" textLength="12.26" lengthAdjust="spacingAndGlyphs">2</text>
<line x1="798.88" y1="68.00" x2="798.88" y2="60.40" stroke="#000" stroke-width="1.73"/>
<text x="792.59" y="48.50" font-size="23.00" textLength="12.72" lengthAdjust="spacingAndGlyphs">4</text>
<line x1="887.52" y1="68.00" x2="887.52" y2="60.40" stroke="#000" stroke-width="1.73"/>
<text x="880.86" y="48.50" font-size="23.00" textLength="13.17" lengthAdjust="spacingAndGlyphs">6</text>
<line x1="976.16" y1="68.00" x2="976.16" y2="60.40" stroke="#000" stroke-width="1.73"/>
<text x="969.73" y="48.50" font-size="23.00" textLength="12.86" lengthAdjust="spacingAndGlyphs">8</text>
<line x1="1064.80" y1="68.00" x2="1064.80" y2="60.40" stroke="#000" stroke-width="1.73"/>
<text x="1051.09" y="48.50" font-size="23.00" textLength="26.54" lengthAdjust="spacingAndGlyphs">10</text>
<line x1="87.73" y1="690.30" x2="532.47" y2="690.30" stroke="#000" stroke-width="1.73"/>
<line x1="88.60" y1="690.30" x2="88.60" y2="682.70" stroke="#000" stroke-width="1.73"/>
<text x="82.24" y="670.80" font-size="23.00" textLength="12.72" lengthAdjust="spacingAndGlyphs">0</text>
<line x1="143.97" y1="690.30" x2="143.97" y2="682.70" stroke="#000" stroke-width="1.73"/>
<text x="137.99" y="670.80" font-size="23.00" textLength="12.01" lengthAdjust="spacingAndGlyphs">5</text>
<line x1="199.35" y1="690.30" x2="199.35" y2="682.70" stroke="#000" stroke-width="1.73"/>
<text x="185.64" y="670.80" font-size="23.00" textLength="26.54" lengthAdjust="spacingAndGlyphs">10</text>
<line x1="254.72" y1="690.30" x2="254.72" y2="682.70" stroke="#000" stroke-width="1.73"/>
<text x="241.27" y="670.80" font-size="23.00" textLength="26.10" lengthAdjust="spacingAndGlyphs">15</text>
<line x1="310.10" y1="690.30" x2="310.10" y2="682.70" stroke="#000" stroke-width="1.73"/>
<text x="296.60" y="670.80" font-size="23.00" textLength="26.73" lengthAdjust="spacingAndGlyphs">20</text>
<line x1="365.48" y1="690.30" x2="365.48" y2="682.70" stroke="#000" stroke-width="1.73"/>
<text x="352.22" y="670.80" font-size="23.00" textLength="26.31" lengthAdjust="spacingAndGlyphs">25</text>
<line x1="420.85" y1="690.30" x2="420.85" y2="682.70" stroke="#000" stroke-width="1.73"/>
<text x="407.69" y="670.80" font-size="23.00" textLength="26.35" lengthAdjust="spacingAndGlyphs">30</text>
<line x1="476.23" y1="690.30" x2="476.23" y2="682.70" stroke="#000" stroke-width="1.73"/>
<text x="463.31" y="670.80" font-size="23.00" textLength="25.93" lengthAdjust="spacingAndGlyphs">35</text>
<line x1="531.60" y1="690.30" x2="531.60" y2="682.70" stroke="#000" stroke-width="1.73"/>
<text x="518.50" y="670.80" font-size="23.00" textLength="26.59" lengthAdjust="spacingAndGlyphs">40</text>
<line x1="88.60" y1="689.43" x2="88.60" y2="1195.87" stroke="#000" stroke-width="1.73"/>
<line x1="88.60" y1="690.30" x2="81.00" y2="690.30" stroke="#000" stroke-width="1.73"/>
<text x="47.16" y="699.20" font-size="23.00" textLength="26.22" lengthAdjust="spacingAndGlyphs">22</text>
<line x1="88.60" y1="774.42" x2="81.00" y2="774.42" stroke="#000" stroke-width="1.73"/>
<text x="46.71" y="783.32" font-size="23.00" textLength="26.53" lengthAdjust="spacingAndGlyphs">23</text>
<line x1="88.60" y1="858.53" x2="81.00" y2="858.53" stroke="#000" stroke-width="1.73"/>
<text x="46.19" y="867.43" font-size="23.00" textLength="26.72" lengthAdjust="spacingAndGlyphs">24</text>
<line x1="88.60" y1="942.65" x2="81.00" y2="942.65" stroke="#000" stroke-width="1.73"/>
<text x="46.88" y="951.55" font-size="23.00" textLength="26.31" lengthAdjust="spacingAndGlyphs">25</text>
<line x1="88.60" y1="1026.77" x2="81.00" y2="1026.77" stroke="#000" stroke-width="1.73"/>
<text x="46.33" y="1035.67" font-size="23.00" textLength="26.94" lengthAdjust="spacingAndGlyphs">26</text>
<line x1="88.60" y1="1110.88" x2="81.00" y2="1110.88" stroke="#000" stroke-width="1.73"/>
<text x="46.83" y="1119.78" font-size="23.00" textLength="26.57" lengthAdjust="spacingAndGlyphs">27</text>
<line x1="88.60" y1="1195.00" x2="81.00" y2="1195.00" stroke="#000" stroke-width="1.73"/>
<text x="46.45" y="1203.90" font-size="23.00" textLength="26.80" lengthAdjust="spacingAndGlyphs">28</text>
<line x1="620.74" y1="690.30" x2="1065.66" y2="690.30" stroke="#000" stroke-width="1.73"/>
<line x1="621.60" y1="690.30" x2="621.60" y2="682.70" stroke="#000" stroke-width="1.73"/>
<text x="615.24" y="670.80" font-size="23.00" textLength="12.72" lengthAdjust="spacingAndGlyphs">0</text>
<line x1="710.24" y1="690.30" x2="710.24" y2="682.70" stroke="#000" stroke-width="1.73"/>
<text x="704.11" y="670.80" font-size="23.00" textLength="12.26" lengthAdjust="spacingAndGlyphs">2</text>
<line x1="798.88" y1="690.30" x2="798.88" y2="682.70" stroke="#000" stroke-width="1.73"/>
<text x="792.59" y="670.80" font-size="23.00" textLength="12.72" lengthAdjust="spacingAndGlyphs">4</text>
<line x1="887.52" y1="690.30" x2="887.52" y2="682.70" stroke="#000" stroke-width="1.73"/>
<text x="880.86" y="670.80" font-size="23.00" textLength="13.17" lengthAdjust="spacingAndGlyphs">6</text>
<line x1="976.16" y1="690.30" x2="976.16" y2="682.70" stroke="#000" stroke-width="1.73"/>
<text x="969.73" y="670.80" font-size="23.00" textLength="12.86" lengthAdjust="spacingAndGlyphs">8</text>
<line x1="1064.80" y1="690.30" x2="1064.80" y2="682.70" stroke="#000" stroke-width="1.73"/>
<text x="1051.09" y="670.80" font-size="23.00" textLength="26.54" lengthAdjust="spacingAndGlyphs">10</text>
<text x="-0.05" y="24.70" font-size="29.89" font-weight="bold" textLength="21.74" lengthAdjust="spacingAndGlyphs">A</text>
<text x="570.00" y="24.70" font-size="29.89" font-weight="bold" textLength="20.49" lengthAdjust="spacingAndGlyphs">B</text>
<text x="4.88" y="646.80" font-size="29.89" font-weight="bold" textLength="21.43" lengthAdjust="spacingAndGlyphs">C</text>
<text x="568.83" y="646.80" font-size="29.89" font-weight="bold" textLength="22.37" lengthAdjust="spacingAndGlyphs">D</text>
<text x="202.11" y="22.90" font-size="23.00" textLength="6.99" lengthAdjust="spacingAndGlyphs">[</text>
<text x="210.99" y="22.90" font-size="23.00" textLength="33.17" lengthAdjust="spacingAndGlyphs">NO</text>
<text x="244.35" y="26.80" font-size="16.10" textLength="9.50" lengthAdjust="spacingAndGlyphs">3</text>
<line x1="259.00" y1="10.10" x2="268.70" y2="10.10" stroke="#000" stroke-width="1.6"/>
<path d="M276.00 16.30H289.20M282.60 9.70V22.90" stroke="#000" stroke-width="1.6" fill="none"/>
<text x="292.42" y="22.90" font-size="23.00" textLength="30.65" lengthAdjust="spacingAndGlyphs">NO</text>
<text x="325.44" y="26.60" font-size="16.10" textLength="8.42" lengthAdjust="spacingAndGlyphs">2</text>
<line x1="340.20" y1="9.20" x2="349.80" y2="9.20" stroke="#000" stroke-width="1.6"/>
<text x="356.72" y="22.90" font-size="23.00" textLength="6.43" lengthAdjust="spacingAndGlyphs">]</text>
<text x="370.54" y="22.90" font-size="23.00" textLength="48.82" lengthAdjust="spacingAndGlyphs">(μM)</text>
<text x="682.67" y="23.10" font-size="23.00" font-style="italic" textLength="12.33" lengthAdjust="spacingAndGlyphs">δ</text>
<text x="694.41" y="14.70" font-size="16.10" textLength="20.25" lengthAdjust="spacingAndGlyphs">15</text>
<text x="715.98" y="23.10" font-size="23.00" textLength="16.03" lengthAdjust="spacingAndGlyphs">N</text>
<text x="732.30" y="26.50" font-size="16.10" textLength="32.49" lengthAdjust="spacingAndGlyphs">NO3</text>
<path d="M770.30 21.70H779.30M774.80 17.20V26.20" stroke="#000" stroke-width="1.3" fill="none"/>
<text x="783.60" y="26.50" font-size="16.10" textLength="32.60" lengthAdjust="spacingAndGlyphs">NO2</text>
<text x="825.04" y="23.10" font-size="23.00" textLength="44.73" lengthAdjust="spacingAndGlyphs">(‰)</text>
<text x="878.82" y="23.10" font-size="23.00" textLength="28.73" lengthAdjust="spacingAndGlyphs">vs.</text>
<text x="914.07" y="23.10" font-size="23.00" textLength="19.65" lengthAdjust="spacingAndGlyphs">N</text>
<text x="931.43" y="26.70" font-size="16.10" textLength="8.55" lengthAdjust="spacingAndGlyphs">2</text>
<text x="948.29" y="23.10" font-size="23.00" textLength="19.86" lengthAdjust="spacingAndGlyphs">in</text>
<text x="974.20" y="23.10" font-size="23.00" textLength="28.83" lengthAdjust="spacingAndGlyphs">air</text>
<text x="202.11" y="645.20" font-size="23.00" textLength="6.99" lengthAdjust="spacingAndGlyphs">[</text>
<text x="210.99" y="645.20" font-size="23.00" textLength="33.17" lengthAdjust="spacingAndGlyphs">NO</text>
<text x="244.35" y="649.10" font-size="16.10" textLength="9.50" lengthAdjust="spacingAndGlyphs">3</text>
<line x1="259.00" y1="632.40" x2="268.70" y2="632.40" stroke="#000" stroke-width="1.6"/>
<path d="M276.00 638.60H289.20M282.60 632.00V645.20" stroke="#000" stroke-width="1.6" fill="none"/>
<text x="292.42" y="645.20" font-size="23.00" textLength="30.65" lengthAdjust="spacingAndGlyphs">NO</text>
<text x="325.44" y="648.90" font-size="16.10" textLength="8.42" lengthAdjust="spacingAndGlyphs">2</text>
<line x1="340.20" y1="631.50" x2="349.80" y2="631.50" stroke="#000" stroke-width="1.6"/>
<text x="356.72" y="645.20" font-size="23.00" textLength="6.43" lengthAdjust="spacingAndGlyphs">]</text>
<text x="370.54" y="645.20" font-size="23.00" textLength="48.82" lengthAdjust="spacingAndGlyphs">(μM)</text>
<text x="682.67" y="645.40" font-size="23.00" font-style="italic" textLength="12.33" lengthAdjust="spacingAndGlyphs">δ</text>
<text x="694.41" y="637.00" font-size="16.10" textLength="20.25" lengthAdjust="spacingAndGlyphs">15</text>
<text x="715.98" y="645.40" font-size="23.00" textLength="16.03" lengthAdjust="spacingAndGlyphs">N</text>
<text x="732.30" y="648.80" font-size="16.10" textLength="32.49" lengthAdjust="spacingAndGlyphs">NO3</text>
<path d="M770.30 644.00H779.30M774.80 639.50V648.50" stroke="#000" stroke-width="1.3" fill="none"/>
<text x="783.60" y="648.80" font-size="16.10" textLength="32.60" lengthAdjust="spacingAndGlyphs">NO2</text>
<text x="825.04" y="645.40" font-size="23.00" textLength="44.73" lengthAdjust="spacingAndGlyphs">(‰)</text>
<text x="878.82" y="645.40" font-size="23.00" textLength="28.73" lengthAdjust="spacingAndGlyphs">vs.</text>
<text x="914.07" y="645.40" font-size="23.00" textLength="19.65" lengthAdjust="spacingAndGlyphs">N</text>
<text x="931.43" y="649.00" font-size="16.10" textLength="8.55" lengthAdjust="spacingAndGlyphs">2</text>
<text x="948.29" y="645.40" font-size="23.00" textLength="19.86" lengthAdjust="spacingAndGlyphs">in</text>
<text x="974.20" y="645.40" font-size="23.00" textLength="28.83" lengthAdjust="spacingAndGlyphs">air</text>
<g transform="translate(18.6,374) rotate(-90)"><text x="-2.04" y="0.00" font-size="23.00" textLength="110.79" lengthAdjust="spacingAndGlyphs">Depth (m)</text></g>
<g transform="translate(32.0,1056.5) rotate(-90)"><text x="-2.03" y="0.00" font-size="23.00" textLength="185.48" lengthAdjust="spacingAndGlyphs">Potential Density</text><text x="190.53" y="0.00" font-size="23.00" textLength="6.28" lengthAdjust="spacingAndGlyphs">(</text><text x="199.31" y="0.00" font-size="23.00" font-style="italic" textLength="12.54" lengthAdjust="spacingAndGlyphs">σ</text><text x="211.67" y="2.90" font-size="16.10" font-style="italic" textLength="9.18" lengthAdjust="spacingAndGlyphs">θ</text><text x="223.40" y="0.00" font-size="23.00" textLength="5.90" lengthAdjust="spacingAndGlyphs">)</text></g>
<rect x="1085.9" y="86.3" width="331.1" height="293.4" fill="#fff" stroke="#a8a0a0" stroke-width="3.0" rx="1.5"/>
<text x="1215.77" y="111.10" font-size="20.70" textLength="75.49" lengthAdjust="spacingAndGlyphs">Station:</text>
<line x1="1091.20" y1="132.20" x2="1131.80" y2="132.20" stroke="#bc8f8f" stroke-width="2.0"/>
<circle cx="1111.40" cy="132.20" r="6.50" fill="#bc8f8f" stroke="#bc8f8f" stroke-width="2.17"/>
<text x="1146.59" y="139.20" font-size="20.70" textLength="68.52" lengthAdjust="spacingAndGlyphs">2-2019</text>
<line x1="1091.20" y1="160.86" x2="1131.80" y2="160.86" stroke="#f08080" stroke-width="2.0"/>
<circle cx="1111.40" cy="160.86" r="6.50" fill="#f08080" stroke="#f08080" stroke-width="2.17"/>
<text x="1146.87" y="167.86" font-size="20.70" textLength="68.19" lengthAdjust="spacingAndGlyphs">3-2019</text>
<line x1="1091.20" y1="189.52" x2="1131.80" y2="189.52" stroke="#dc143c" stroke-width="2.0"/>
<circle cx="1111.40" cy="189.52" r="6.50" fill="#dc143c" stroke="#dc143c" stroke-width="2.17"/>
<text x="1147.20" y="196.52" font-size="20.70" textLength="68.39" lengthAdjust="spacingAndGlyphs">4-2019</text>
<line x1="1091.20" y1="218.18" x2="1131.80" y2="218.18" stroke="#ff8c00" stroke-width="2.0"/>
<circle cx="1111.40" cy="218.18" r="6.50" fill="#ff8c00" stroke="#ff8c00" stroke-width="2.17"/>
<text x="1146.83" y="225.18" font-size="20.70" textLength="80.17" lengthAdjust="spacingAndGlyphs">5a-2019</text>
<line x1="1091.20" y1="246.84" x2="1131.80" y2="246.84" stroke="#ff8c00" stroke-width="2.0"/>
<path d="M1111.40 240.34L1104.90 253.34H1117.90Z" fill="#ff8c00" stroke="#ff8c00" stroke-width="2.17"/>
<text x="1146.82" y="253.84" font-size="20.70" textLength="80.61" lengthAdjust="spacingAndGlyphs">5b-2019</text>
<line x1="1091.20" y1="275.50" x2="1131.80" y2="275.50" stroke="#ff8c00" stroke-width="2.0"/>
<rect x="1104.90" y="269.00" width="13.00" height="13.00" fill="#ff8c00" stroke="#ff8c00" stroke-width="2.17"/>
<text x="1146.83" y="282.50" font-size="20.70" textLength="78.94" lengthAdjust="spacingAndGlyphs">5c-2019</text>
<line x1="1091.20" y1="304.16" x2="1131.80" y2="304.16" stroke="#ff8c00" stroke-width="2.0"/>
<path d="M1111.40 294.97L1120.59 304.16L1111.40 313.35L1102.21 304.16Z" fill="#ff8c00" stroke="#ff8c00" stroke-width="2.17"/>
<text x="1146.82" y="311.16" font-size="20.70" textLength="80.61" lengthAdjust="spacingAndGlyphs">5d-2019</text>
<line x1="1091.20" y1="332.82" x2="1131.80" y2="332.82" stroke="#bdb76b" stroke-width="2.0"/>
<circle cx="1111.40" cy="332.82" r="6.50" fill="#bdb76b" stroke="#bdb76b" stroke-width="2.17"/>
<text x="1146.58" y="339.82" font-size="20.70" textLength="68.60" lengthAdjust="spacingAndGlyphs">6-2019</text>
<line x1="1091.20" y1="361.48" x2="1131.80" y2="361.48" stroke="#9acd32" stroke-width="2.0"/>
<circle cx="1111.40" cy="361.48" r="6.50" fill="#9acd32" stroke="#9acd32" stroke-width="2.17"/>
<text x="1146.57" y="368.48" font-size="20.70" textLength="68.37" lengthAdjust="spacingAndGlyphs">7-2019</text>
<line x1="1265.90" y1="132.20" x2="1306.50" y2="132.20" stroke="#228b22" stroke-width="2.0"/>
<circle cx="1286.10" cy="132.20" r="6.50" fill="#228b22" stroke="#228b22" stroke-width="2.17"/>
<text x="1321.24" y="139.20" font-size="20.70" textLength="68.47" lengthAdjust="spacingAndGlyphs">8-2019</text>
<line x1="1265.90" y1="160.86" x2="1306.50" y2="160.86" stroke="#1e90ff" stroke-width="2.0"/>
<circle cx="1286.10" cy="160.86" r="6.50" fill="#1e90ff" stroke="#1e90ff" stroke-width="2.17"/>
<text x="1320.53" y="167.86" font-size="20.70" textLength="92.76" lengthAdjust="spacingAndGlyphs">10a-2019</text>
<line x1="1265.90" y1="189.52" x2="1306.50" y2="189.52" stroke="#1e90ff" stroke-width="2.0"/>
<path d="M1286.10 183.02L1279.60 196.02H1292.60Z" fill="#1e90ff" stroke="#1e90ff" stroke-width="2.17"/>
<text x="1320.52" y="196.52" font-size="20.70" textLength="93.20" lengthAdjust="spacingAndGlyphs">10b-2019</text>
<line x1="1265.90" y1="218.18" x2="1306.50" y2="218.18" stroke="#0000cd" stroke-width="2.0"/>
<circle cx="1286.10" cy="218.18" r="6.50" fill="#0000cd" stroke="#0000cd" stroke-width="2.17"/>
<text x="1320.52" y="225.18" font-size="20.70" textLength="80.80" lengthAdjust="spacingAndGlyphs">12-2019</text>
<line x1="1265.90" y1="246.84" x2="1306.50" y2="246.84" stroke="#5f9ea0" stroke-width="2.0"/>
<circle cx="1286.10" cy="246.84" r="6.50" fill="#5f9ea0" stroke="#5f9ea0" stroke-width="2.17"/>
<text x="1320.53" y="253.84" font-size="20.70" textLength="68.26" lengthAdjust="spacingAndGlyphs">1-2020</text>
<line x1="1265.90" y1="275.50" x2="1306.50" y2="275.50" stroke="#9370db" stroke-width="2.0"/>
<circle cx="1286.10" cy="275.50" r="6.50" fill="#9370db" stroke="#9370db" stroke-width="2.17"/>
<text x="1321.10" y="282.50" font-size="20.70" textLength="68.41" lengthAdjust="spacingAndGlyphs">2-2020</text>
<line x1="1265.90" y1="304.16" x2="1306.50" y2="304.16" stroke="#9400d3" stroke-width="2.0"/>
<circle cx="1286.10" cy="304.16" r="6.50" fill="#9400d3" stroke="#9400d3" stroke-width="2.17"/>
<text x="1321.37" y="311.16" font-size="20.70" textLength="68.08" lengthAdjust="spacingAndGlyphs">3-2020</text>
<line x1="1265.90" y1="332.82" x2="1306.50" y2="332.82" stroke="#800080" stroke-width="2.0"/>
<circle cx="1286.10" cy="332.82" r="6.50" fill="#800080" stroke="#800080" stroke-width="2.17"/>
<text x="1321.70" y="339.82" font-size="20.70" textLength="68.28" lengthAdjust="spacingAndGlyphs">4-2020</text>
</svg></body></html>
